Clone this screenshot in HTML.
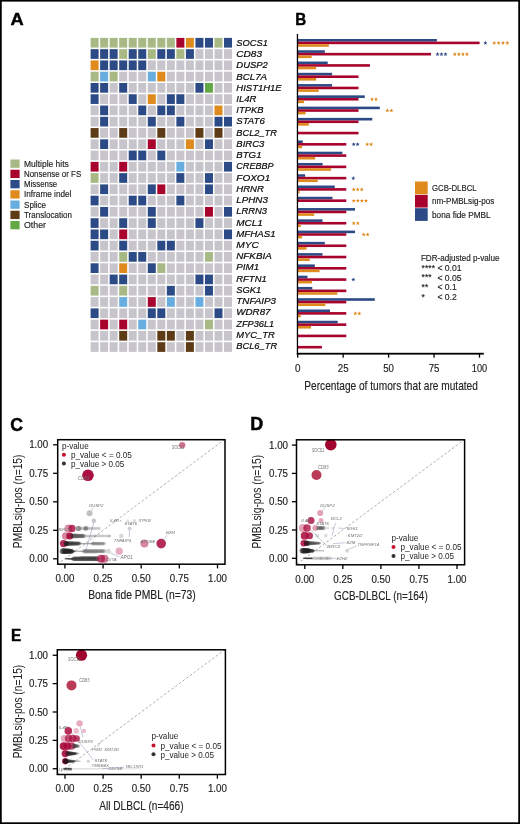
<!DOCTYPE html>
<html><head><meta charset="utf-8"><style>
html,body{margin:0;padding:0;background:#fff;}
body{width:520px;height:824px;overflow:hidden;font-family:"Liberation Sans", sans-serif;}
svg{display:block;will-change:transform;}
</style></head><body>
<svg width="520" height="824" viewBox="0 0 520 824" font-family='"Liberation Sans", sans-serif'>
<rect x="0" y="0" width="520" height="824" fill="#fff"/>
<text x="10.4" y="25.4" font-size="17.4" font-weight="bold" fill="#000" textLength="13.2" lengthAdjust="spacingAndGlyphs" stroke="#000" stroke-width="0.45">A</text>
<text x="295.3" y="24.9" font-size="17.2" font-weight="bold" fill="#000" textLength="11" lengthAdjust="spacingAndGlyphs" stroke="#000" stroke-width="0.45">B</text>
<text x="10.2" y="430.6" font-size="18.6" font-weight="bold" fill="#000" textLength="12.8" lengthAdjust="spacingAndGlyphs" stroke="#000" stroke-width="0.45">C</text>
<text x="250.3" y="430.1" font-size="17.6" font-weight="bold" fill="#000" textLength="13" lengthAdjust="spacingAndGlyphs" stroke="#000" stroke-width="0.45">D</text>
<text x="11" y="640.6" font-size="16.4" font-weight="bold" fill="#000" textLength="10.2" lengthAdjust="spacingAndGlyphs" stroke="#000" stroke-width="0.45">E</text>
<rect x="90.6" y="37.9" width="8" height="9.7" fill="#a8b985"/>
<rect x="100.13" y="37.9" width="8" height="9.7" fill="#a8b985"/>
<rect x="109.66" y="37.9" width="8" height="9.7" fill="#a8b985"/>
<rect x="119.19" y="37.9" width="8" height="9.7" fill="#a8b985"/>
<rect x="128.72" y="37.9" width="8" height="9.7" fill="#a8b985"/>
<rect x="138.25" y="37.9" width="8" height="9.7" fill="#a8b985"/>
<rect x="147.78" y="37.9" width="8" height="9.7" fill="#a8b985"/>
<rect x="157.31" y="37.9" width="8" height="9.7" fill="#a8b985"/>
<rect x="166.84" y="37.9" width="8" height="9.7" fill="#a8b985"/>
<rect x="176.37" y="37.9" width="8" height="9.7" fill="#a7032d"/>
<rect x="185.9" y="37.9" width="8" height="9.7" fill="#df8a1c"/>
<rect x="195.43" y="37.9" width="8" height="9.7" fill="#2c4a86"/>
<rect x="204.96" y="37.9" width="8" height="9.7" fill="#2c4a86"/>
<rect x="214.49" y="37.9" width="8" height="9.7" fill="#a8b985"/>
<rect x="224.02" y="37.9" width="8" height="9.7" fill="#2c4a86"/>
<rect x="90.6" y="49.17" width="8" height="9.7" fill="#2c4a86"/>
<rect x="100.13" y="49.17" width="8" height="9.7" fill="#2c4a86"/>
<rect x="109.66" y="49.17" width="8" height="9.7" fill="#2c4a86"/>
<rect x="119.19" y="49.17" width="8" height="9.7" fill="#a8b985"/>
<rect x="128.72" y="49.17" width="8" height="9.7" fill="#2c4a86"/>
<rect x="138.25" y="49.17" width="8" height="9.7" fill="#2c4a86"/>
<rect x="147.78" y="49.17" width="8" height="9.7" fill="#a8b985"/>
<rect x="157.31" y="49.17" width="8" height="9.7" fill="#2c4a86"/>
<rect x="166.84" y="49.17" width="8" height="9.7" fill="#2c4a86"/>
<rect x="176.37" y="49.17" width="8" height="9.7" fill="#a8b985"/>
<rect x="185.9" y="49.17" width="8" height="9.7" fill="#2c4a86"/>
<rect x="195.43" y="49.17" width="8" height="9.7" fill="#c7c5cb"/>
<rect x="204.96" y="49.17" width="8" height="9.7" fill="#c7c5cb"/>
<rect x="214.49" y="49.17" width="8" height="9.7" fill="#c7c5cb"/>
<rect x="224.02" y="49.17" width="8" height="9.7" fill="#c7c5cb"/>
<rect x="90.6" y="60.44" width="8" height="9.7" fill="#df8a1c"/>
<rect x="100.13" y="60.44" width="8" height="9.7" fill="#2c4a86"/>
<rect x="109.66" y="60.44" width="8" height="9.7" fill="#2c4a86"/>
<rect x="119.19" y="60.44" width="8" height="9.7" fill="#2c4a86"/>
<rect x="128.72" y="60.44" width="8" height="9.7" fill="#2c4a86"/>
<rect x="138.25" y="60.44" width="8" height="9.7" fill="#2c4a86"/>
<rect x="147.78" y="60.44" width="8" height="9.7" fill="#c7c5cb"/>
<rect x="157.31" y="60.44" width="8" height="9.7" fill="#c7c5cb"/>
<rect x="166.84" y="60.44" width="8" height="9.7" fill="#c7c5cb"/>
<rect x="176.37" y="60.44" width="8" height="9.7" fill="#c7c5cb"/>
<rect x="185.9" y="60.44" width="8" height="9.7" fill="#c7c5cb"/>
<rect x="195.43" y="60.44" width="8" height="9.7" fill="#c7c5cb"/>
<rect x="204.96" y="60.44" width="8" height="9.7" fill="#c7c5cb"/>
<rect x="214.49" y="60.44" width="8" height="9.7" fill="#c7c5cb"/>
<rect x="224.02" y="60.44" width="8" height="9.7" fill="#c7c5cb"/>
<rect x="90.6" y="71.71" width="8" height="9.7" fill="#a8b985"/>
<rect x="100.13" y="71.71" width="8" height="9.7" fill="#68ade0"/>
<rect x="109.66" y="71.71" width="8" height="9.7" fill="#a8b985"/>
<rect x="119.19" y="71.71" width="8" height="9.7" fill="#c7c5cb"/>
<rect x="128.72" y="71.71" width="8" height="9.7" fill="#c7c5cb"/>
<rect x="138.25" y="71.71" width="8" height="9.7" fill="#c7c5cb"/>
<rect x="147.78" y="71.71" width="8" height="9.7" fill="#68ade0"/>
<rect x="157.31" y="71.71" width="8" height="9.7" fill="#df8a1c"/>
<rect x="166.84" y="71.71" width="8" height="9.7" fill="#c7c5cb"/>
<rect x="176.37" y="71.71" width="8" height="9.7" fill="#c7c5cb"/>
<rect x="185.9" y="71.71" width="8" height="9.7" fill="#c7c5cb"/>
<rect x="195.43" y="71.71" width="8" height="9.7" fill="#c7c5cb"/>
<rect x="204.96" y="71.71" width="8" height="9.7" fill="#c7c5cb"/>
<rect x="214.49" y="71.71" width="8" height="9.7" fill="#c7c5cb"/>
<rect x="224.02" y="71.71" width="8" height="9.7" fill="#c7c5cb"/>
<rect x="90.6" y="82.98" width="8" height="9.7" fill="#2c4a86"/>
<rect x="100.13" y="82.98" width="8" height="9.7" fill="#2c4a86"/>
<rect x="109.66" y="82.98" width="8" height="9.7" fill="#c7c5cb"/>
<rect x="119.19" y="82.98" width="8" height="9.7" fill="#2c4a86"/>
<rect x="128.72" y="82.98" width="8" height="9.7" fill="#c7c5cb"/>
<rect x="138.25" y="82.98" width="8" height="9.7" fill="#c7c5cb"/>
<rect x="147.78" y="82.98" width="8" height="9.7" fill="#c7c5cb"/>
<rect x="157.31" y="82.98" width="8" height="9.7" fill="#c7c5cb"/>
<rect x="166.84" y="82.98" width="8" height="9.7" fill="#c7c5cb"/>
<rect x="176.37" y="82.98" width="8" height="9.7" fill="#c7c5cb"/>
<rect x="185.9" y="82.98" width="8" height="9.7" fill="#c7c5cb"/>
<rect x="195.43" y="82.98" width="8" height="9.7" fill="#2c4a86"/>
<rect x="204.96" y="82.98" width="8" height="9.7" fill="#64a846"/>
<rect x="214.49" y="82.98" width="8" height="9.7" fill="#c7c5cb"/>
<rect x="224.02" y="82.98" width="8" height="9.7" fill="#c7c5cb"/>
<rect x="90.6" y="94.25" width="8" height="9.7" fill="#2c4a86"/>
<rect x="100.13" y="94.25" width="8" height="9.7" fill="#c7c5cb"/>
<rect x="109.66" y="94.25" width="8" height="9.7" fill="#c7c5cb"/>
<rect x="119.19" y="94.25" width="8" height="9.7" fill="#c7c5cb"/>
<rect x="128.72" y="94.25" width="8" height="9.7" fill="#2c4a86"/>
<rect x="138.25" y="94.25" width="8" height="9.7" fill="#c7c5cb"/>
<rect x="147.78" y="94.25" width="8" height="9.7" fill="#df8a1c"/>
<rect x="157.31" y="94.25" width="8" height="9.7" fill="#c7c5cb"/>
<rect x="166.84" y="94.25" width="8" height="9.7" fill="#2c4a86"/>
<rect x="176.37" y="94.25" width="8" height="9.7" fill="#2c4a86"/>
<rect x="185.9" y="94.25" width="8" height="9.7" fill="#c7c5cb"/>
<rect x="195.43" y="94.25" width="8" height="9.7" fill="#c7c5cb"/>
<rect x="204.96" y="94.25" width="8" height="9.7" fill="#c7c5cb"/>
<rect x="214.49" y="94.25" width="8" height="9.7" fill="#c7c5cb"/>
<rect x="224.02" y="94.25" width="8" height="9.7" fill="#c7c5cb"/>
<rect x="90.6" y="105.52" width="8" height="9.7" fill="#c7c5cb"/>
<rect x="100.13" y="105.52" width="8" height="9.7" fill="#2c4a86"/>
<rect x="109.66" y="105.52" width="8" height="9.7" fill="#c7c5cb"/>
<rect x="119.19" y="105.52" width="8" height="9.7" fill="#c7c5cb"/>
<rect x="128.72" y="105.52" width="8" height="9.7" fill="#c7c5cb"/>
<rect x="138.25" y="105.52" width="8" height="9.7" fill="#2c4a86"/>
<rect x="147.78" y="105.52" width="8" height="9.7" fill="#c7c5cb"/>
<rect x="157.31" y="105.52" width="8" height="9.7" fill="#2c4a86"/>
<rect x="166.84" y="105.52" width="8" height="9.7" fill="#2c4a86"/>
<rect x="176.37" y="105.52" width="8" height="9.7" fill="#c7c5cb"/>
<rect x="185.9" y="105.52" width="8" height="9.7" fill="#c7c5cb"/>
<rect x="195.43" y="105.52" width="8" height="9.7" fill="#c7c5cb"/>
<rect x="204.96" y="105.52" width="8" height="9.7" fill="#c7c5cb"/>
<rect x="214.49" y="105.52" width="8" height="9.7" fill="#df8a1c"/>
<rect x="224.02" y="105.52" width="8" height="9.7" fill="#c7c5cb"/>
<rect x="90.6" y="116.79" width="8" height="9.7" fill="#c7c5cb"/>
<rect x="100.13" y="116.79" width="8" height="9.7" fill="#2c4a86"/>
<rect x="109.66" y="116.79" width="8" height="9.7" fill="#c7c5cb"/>
<rect x="119.19" y="116.79" width="8" height="9.7" fill="#c7c5cb"/>
<rect x="128.72" y="116.79" width="8" height="9.7" fill="#c7c5cb"/>
<rect x="138.25" y="116.79" width="8" height="9.7" fill="#c7c5cb"/>
<rect x="147.78" y="116.79" width="8" height="9.7" fill="#2c4a86"/>
<rect x="157.31" y="116.79" width="8" height="9.7" fill="#c7c5cb"/>
<rect x="166.84" y="116.79" width="8" height="9.7" fill="#c7c5cb"/>
<rect x="176.37" y="116.79" width="8" height="9.7" fill="#2c4a86"/>
<rect x="185.9" y="116.79" width="8" height="9.7" fill="#c7c5cb"/>
<rect x="195.43" y="116.79" width="8" height="9.7" fill="#c7c5cb"/>
<rect x="204.96" y="116.79" width="8" height="9.7" fill="#c7c5cb"/>
<rect x="214.49" y="116.79" width="8" height="9.7" fill="#2c4a86"/>
<rect x="224.02" y="116.79" width="8" height="9.7" fill="#2c4a86"/>
<rect x="90.6" y="128.06" width="8" height="9.7" fill="#5c3b16"/>
<rect x="100.13" y="128.06" width="8" height="9.7" fill="#c7c5cb"/>
<rect x="109.66" y="128.06" width="8" height="9.7" fill="#c7c5cb"/>
<rect x="119.19" y="128.06" width="8" height="9.7" fill="#5c3b16"/>
<rect x="128.72" y="128.06" width="8" height="9.7" fill="#c7c5cb"/>
<rect x="138.25" y="128.06" width="8" height="9.7" fill="#c7c5cb"/>
<rect x="147.78" y="128.06" width="8" height="9.7" fill="#c7c5cb"/>
<rect x="157.31" y="128.06" width="8" height="9.7" fill="#5c3b16"/>
<rect x="166.84" y="128.06" width="8" height="9.7" fill="#c7c5cb"/>
<rect x="176.37" y="128.06" width="8" height="9.7" fill="#c7c5cb"/>
<rect x="185.9" y="128.06" width="8" height="9.7" fill="#c7c5cb"/>
<rect x="195.43" y="128.06" width="8" height="9.7" fill="#5c3b16"/>
<rect x="204.96" y="128.06" width="8" height="9.7" fill="#c7c5cb"/>
<rect x="214.49" y="128.06" width="8" height="9.7" fill="#5c3b16"/>
<rect x="224.02" y="128.06" width="8" height="9.7" fill="#c7c5cb"/>
<rect x="90.6" y="139.33" width="8" height="9.7" fill="#c7c5cb"/>
<rect x="100.13" y="139.33" width="8" height="9.7" fill="#2c4a86"/>
<rect x="109.66" y="139.33" width="8" height="9.7" fill="#c7c5cb"/>
<rect x="119.19" y="139.33" width="8" height="9.7" fill="#c7c5cb"/>
<rect x="128.72" y="139.33" width="8" height="9.7" fill="#c7c5cb"/>
<rect x="138.25" y="139.33" width="8" height="9.7" fill="#c7c5cb"/>
<rect x="147.78" y="139.33" width="8" height="9.7" fill="#a7032d"/>
<rect x="157.31" y="139.33" width="8" height="9.7" fill="#c7c5cb"/>
<rect x="166.84" y="139.33" width="8" height="9.7" fill="#c7c5cb"/>
<rect x="176.37" y="139.33" width="8" height="9.7" fill="#c7c5cb"/>
<rect x="185.9" y="139.33" width="8" height="9.7" fill="#df8a1c"/>
<rect x="195.43" y="139.33" width="8" height="9.7" fill="#c7c5cb"/>
<rect x="204.96" y="139.33" width="8" height="9.7" fill="#2c4a86"/>
<rect x="214.49" y="139.33" width="8" height="9.7" fill="#c7c5cb"/>
<rect x="224.02" y="139.33" width="8" height="9.7" fill="#c7c5cb"/>
<rect x="90.6" y="150.6" width="8" height="9.7" fill="#c7c5cb"/>
<rect x="100.13" y="150.6" width="8" height="9.7" fill="#c7c5cb"/>
<rect x="109.66" y="150.6" width="8" height="9.7" fill="#c7c5cb"/>
<rect x="119.19" y="150.6" width="8" height="9.7" fill="#c7c5cb"/>
<rect x="128.72" y="150.6" width="8" height="9.7" fill="#2c4a86"/>
<rect x="138.25" y="150.6" width="8" height="9.7" fill="#2c4a86"/>
<rect x="147.78" y="150.6" width="8" height="9.7" fill="#c7c5cb"/>
<rect x="157.31" y="150.6" width="8" height="9.7" fill="#2c4a86"/>
<rect x="166.84" y="150.6" width="8" height="9.7" fill="#c7c5cb"/>
<rect x="176.37" y="150.6" width="8" height="9.7" fill="#c7c5cb"/>
<rect x="185.9" y="150.6" width="8" height="9.7" fill="#c7c5cb"/>
<rect x="195.43" y="150.6" width="8" height="9.7" fill="#c7c5cb"/>
<rect x="204.96" y="150.6" width="8" height="9.7" fill="#c7c5cb"/>
<rect x="214.49" y="150.6" width="8" height="9.7" fill="#c7c5cb"/>
<rect x="224.02" y="150.6" width="8" height="9.7" fill="#c7c5cb"/>
<rect x="90.6" y="161.87" width="8" height="9.7" fill="#a7032d"/>
<rect x="100.13" y="161.87" width="8" height="9.7" fill="#c7c5cb"/>
<rect x="109.66" y="161.87" width="8" height="9.7" fill="#c7c5cb"/>
<rect x="119.19" y="161.87" width="8" height="9.7" fill="#a7032d"/>
<rect x="128.72" y="161.87" width="8" height="9.7" fill="#c7c5cb"/>
<rect x="138.25" y="161.87" width="8" height="9.7" fill="#c7c5cb"/>
<rect x="147.78" y="161.87" width="8" height="9.7" fill="#c7c5cb"/>
<rect x="157.31" y="161.87" width="8" height="9.7" fill="#c7c5cb"/>
<rect x="166.84" y="161.87" width="8" height="9.7" fill="#c7c5cb"/>
<rect x="176.37" y="161.87" width="8" height="9.7" fill="#68ade0"/>
<rect x="185.9" y="161.87" width="8" height="9.7" fill="#c7c5cb"/>
<rect x="195.43" y="161.87" width="8" height="9.7" fill="#c7c5cb"/>
<rect x="204.96" y="161.87" width="8" height="9.7" fill="#c7c5cb"/>
<rect x="214.49" y="161.87" width="8" height="9.7" fill="#c7c5cb"/>
<rect x="224.02" y="161.87" width="8" height="9.7" fill="#2c4a86"/>
<rect x="90.6" y="173.14" width="8" height="9.7" fill="#a8b985"/>
<rect x="100.13" y="173.14" width="8" height="9.7" fill="#c7c5cb"/>
<rect x="109.66" y="173.14" width="8" height="9.7" fill="#c7c5cb"/>
<rect x="119.19" y="173.14" width="8" height="9.7" fill="#2c4a86"/>
<rect x="128.72" y="173.14" width="8" height="9.7" fill="#c7c5cb"/>
<rect x="138.25" y="173.14" width="8" height="9.7" fill="#c7c5cb"/>
<rect x="147.78" y="173.14" width="8" height="9.7" fill="#c7c5cb"/>
<rect x="157.31" y="173.14" width="8" height="9.7" fill="#c7c5cb"/>
<rect x="166.84" y="173.14" width="8" height="9.7" fill="#c7c5cb"/>
<rect x="176.37" y="173.14" width="8" height="9.7" fill="#2c4a86"/>
<rect x="185.9" y="173.14" width="8" height="9.7" fill="#c7c5cb"/>
<rect x="195.43" y="173.14" width="8" height="9.7" fill="#c7c5cb"/>
<rect x="204.96" y="173.14" width="8" height="9.7" fill="#2c4a86"/>
<rect x="214.49" y="173.14" width="8" height="9.7" fill="#c7c5cb"/>
<rect x="224.02" y="173.14" width="8" height="9.7" fill="#c7c5cb"/>
<rect x="90.6" y="184.41" width="8" height="9.7" fill="#c7c5cb"/>
<rect x="100.13" y="184.41" width="8" height="9.7" fill="#2c4a86"/>
<rect x="109.66" y="184.41" width="8" height="9.7" fill="#c7c5cb"/>
<rect x="119.19" y="184.41" width="8" height="9.7" fill="#c7c5cb"/>
<rect x="128.72" y="184.41" width="8" height="9.7" fill="#c7c5cb"/>
<rect x="138.25" y="184.41" width="8" height="9.7" fill="#c7c5cb"/>
<rect x="147.78" y="184.41" width="8" height="9.7" fill="#2c4a86"/>
<rect x="157.31" y="184.41" width="8" height="9.7" fill="#a7032d"/>
<rect x="166.84" y="184.41" width="8" height="9.7" fill="#c7c5cb"/>
<rect x="176.37" y="184.41" width="8" height="9.7" fill="#c7c5cb"/>
<rect x="185.9" y="184.41" width="8" height="9.7" fill="#c7c5cb"/>
<rect x="195.43" y="184.41" width="8" height="9.7" fill="#c7c5cb"/>
<rect x="204.96" y="184.41" width="8" height="9.7" fill="#2c4a86"/>
<rect x="214.49" y="184.41" width="8" height="9.7" fill="#c7c5cb"/>
<rect x="224.02" y="184.41" width="8" height="9.7" fill="#c7c5cb"/>
<rect x="90.6" y="195.68" width="8" height="9.7" fill="#2c4a86"/>
<rect x="100.13" y="195.68" width="8" height="9.7" fill="#c7c5cb"/>
<rect x="109.66" y="195.68" width="8" height="9.7" fill="#c7c5cb"/>
<rect x="119.19" y="195.68" width="8" height="9.7" fill="#c7c5cb"/>
<rect x="128.72" y="195.68" width="8" height="9.7" fill="#2c4a86"/>
<rect x="138.25" y="195.68" width="8" height="9.7" fill="#2c4a86"/>
<rect x="147.78" y="195.68" width="8" height="9.7" fill="#c7c5cb"/>
<rect x="157.31" y="195.68" width="8" height="9.7" fill="#c7c5cb"/>
<rect x="166.84" y="195.68" width="8" height="9.7" fill="#c7c5cb"/>
<rect x="176.37" y="195.68" width="8" height="9.7" fill="#2c4a86"/>
<rect x="185.9" y="195.68" width="8" height="9.7" fill="#c7c5cb"/>
<rect x="195.43" y="195.68" width="8" height="9.7" fill="#c7c5cb"/>
<rect x="204.96" y="195.68" width="8" height="9.7" fill="#c7c5cb"/>
<rect x="214.49" y="195.68" width="8" height="9.7" fill="#c7c5cb"/>
<rect x="224.02" y="195.68" width="8" height="9.7" fill="#c7c5cb"/>
<rect x="90.6" y="206.95" width="8" height="9.7" fill="#c7c5cb"/>
<rect x="100.13" y="206.95" width="8" height="9.7" fill="#2c4a86"/>
<rect x="109.66" y="206.95" width="8" height="9.7" fill="#c7c5cb"/>
<rect x="119.19" y="206.95" width="8" height="9.7" fill="#c7c5cb"/>
<rect x="128.72" y="206.95" width="8" height="9.7" fill="#c7c5cb"/>
<rect x="138.25" y="206.95" width="8" height="9.7" fill="#c7c5cb"/>
<rect x="147.78" y="206.95" width="8" height="9.7" fill="#2c4a86"/>
<rect x="157.31" y="206.95" width="8" height="9.7" fill="#c7c5cb"/>
<rect x="166.84" y="206.95" width="8" height="9.7" fill="#c7c5cb"/>
<rect x="176.37" y="206.95" width="8" height="9.7" fill="#c7c5cb"/>
<rect x="185.9" y="206.95" width="8" height="9.7" fill="#c7c5cb"/>
<rect x="195.43" y="206.95" width="8" height="9.7" fill="#c7c5cb"/>
<rect x="204.96" y="206.95" width="8" height="9.7" fill="#a7032d"/>
<rect x="214.49" y="206.95" width="8" height="9.7" fill="#c7c5cb"/>
<rect x="224.02" y="206.95" width="8" height="9.7" fill="#2c4a86"/>
<rect x="90.6" y="218.22" width="8" height="9.7" fill="#2c4a86"/>
<rect x="100.13" y="218.22" width="8" height="9.7" fill="#c7c5cb"/>
<rect x="109.66" y="218.22" width="8" height="9.7" fill="#c7c5cb"/>
<rect x="119.19" y="218.22" width="8" height="9.7" fill="#2c4a86"/>
<rect x="128.72" y="218.22" width="8" height="9.7" fill="#c7c5cb"/>
<rect x="138.25" y="218.22" width="8" height="9.7" fill="#c7c5cb"/>
<rect x="147.78" y="218.22" width="8" height="9.7" fill="#2c4a86"/>
<rect x="157.31" y="218.22" width="8" height="9.7" fill="#c7c5cb"/>
<rect x="166.84" y="218.22" width="8" height="9.7" fill="#c7c5cb"/>
<rect x="176.37" y="218.22" width="8" height="9.7" fill="#c7c5cb"/>
<rect x="185.9" y="218.22" width="8" height="9.7" fill="#c7c5cb"/>
<rect x="195.43" y="218.22" width="8" height="9.7" fill="#2c4a86"/>
<rect x="204.96" y="218.22" width="8" height="9.7" fill="#c7c5cb"/>
<rect x="214.49" y="218.22" width="8" height="9.7" fill="#c7c5cb"/>
<rect x="224.02" y="218.22" width="8" height="9.7" fill="#c7c5cb"/>
<rect x="90.6" y="229.49" width="8" height="9.7" fill="#2c4a86"/>
<rect x="100.13" y="229.49" width="8" height="9.7" fill="#2c4a86"/>
<rect x="109.66" y="229.49" width="8" height="9.7" fill="#c7c5cb"/>
<rect x="119.19" y="229.49" width="8" height="9.7" fill="#a7032d"/>
<rect x="128.72" y="229.49" width="8" height="9.7" fill="#c7c5cb"/>
<rect x="138.25" y="229.49" width="8" height="9.7" fill="#c7c5cb"/>
<rect x="147.78" y="229.49" width="8" height="9.7" fill="#c7c5cb"/>
<rect x="157.31" y="229.49" width="8" height="9.7" fill="#c7c5cb"/>
<rect x="166.84" y="229.49" width="8" height="9.7" fill="#c7c5cb"/>
<rect x="176.37" y="229.49" width="8" height="9.7" fill="#c7c5cb"/>
<rect x="185.9" y="229.49" width="8" height="9.7" fill="#c7c5cb"/>
<rect x="195.43" y="229.49" width="8" height="9.7" fill="#c7c5cb"/>
<rect x="204.96" y="229.49" width="8" height="9.7" fill="#c7c5cb"/>
<rect x="214.49" y="229.49" width="8" height="9.7" fill="#c7c5cb"/>
<rect x="224.02" y="229.49" width="8" height="9.7" fill="#2c4a86"/>
<rect x="90.6" y="240.76" width="8" height="9.7" fill="#2c4a86"/>
<rect x="100.13" y="240.76" width="8" height="9.7" fill="#c7c5cb"/>
<rect x="109.66" y="240.76" width="8" height="9.7" fill="#c7c5cb"/>
<rect x="119.19" y="240.76" width="8" height="9.7" fill="#2c4a86"/>
<rect x="128.72" y="240.76" width="8" height="9.7" fill="#c7c5cb"/>
<rect x="138.25" y="240.76" width="8" height="9.7" fill="#c7c5cb"/>
<rect x="147.78" y="240.76" width="8" height="9.7" fill="#c7c5cb"/>
<rect x="157.31" y="240.76" width="8" height="9.7" fill="#2c4a86"/>
<rect x="166.84" y="240.76" width="8" height="9.7" fill="#2c4a86"/>
<rect x="176.37" y="240.76" width="8" height="9.7" fill="#c7c5cb"/>
<rect x="185.9" y="240.76" width="8" height="9.7" fill="#c7c5cb"/>
<rect x="195.43" y="240.76" width="8" height="9.7" fill="#c7c5cb"/>
<rect x="204.96" y="240.76" width="8" height="9.7" fill="#c7c5cb"/>
<rect x="214.49" y="240.76" width="8" height="9.7" fill="#c7c5cb"/>
<rect x="224.02" y="240.76" width="8" height="9.7" fill="#c7c5cb"/>
<rect x="90.6" y="252.03" width="8" height="9.7" fill="#c7c5cb"/>
<rect x="100.13" y="252.03" width="8" height="9.7" fill="#c7c5cb"/>
<rect x="109.66" y="252.03" width="8" height="9.7" fill="#c7c5cb"/>
<rect x="119.19" y="252.03" width="8" height="9.7" fill="#a8b985"/>
<rect x="128.72" y="252.03" width="8" height="9.7" fill="#2c4a86"/>
<rect x="138.25" y="252.03" width="8" height="9.7" fill="#2c4a86"/>
<rect x="147.78" y="252.03" width="8" height="9.7" fill="#c7c5cb"/>
<rect x="157.31" y="252.03" width="8" height="9.7" fill="#c7c5cb"/>
<rect x="166.84" y="252.03" width="8" height="9.7" fill="#c7c5cb"/>
<rect x="176.37" y="252.03" width="8" height="9.7" fill="#c7c5cb"/>
<rect x="185.9" y="252.03" width="8" height="9.7" fill="#c7c5cb"/>
<rect x="195.43" y="252.03" width="8" height="9.7" fill="#c7c5cb"/>
<rect x="204.96" y="252.03" width="8" height="9.7" fill="#a8b985"/>
<rect x="214.49" y="252.03" width="8" height="9.7" fill="#c7c5cb"/>
<rect x="224.02" y="252.03" width="8" height="9.7" fill="#c7c5cb"/>
<rect x="90.6" y="263.3" width="8" height="9.7" fill="#2c4a86"/>
<rect x="100.13" y="263.3" width="8" height="9.7" fill="#c7c5cb"/>
<rect x="109.66" y="263.3" width="8" height="9.7" fill="#c7c5cb"/>
<rect x="119.19" y="263.3" width="8" height="9.7" fill="#df8a1c"/>
<rect x="128.72" y="263.3" width="8" height="9.7" fill="#c7c5cb"/>
<rect x="138.25" y="263.3" width="8" height="9.7" fill="#c7c5cb"/>
<rect x="147.78" y="263.3" width="8" height="9.7" fill="#2c4a86"/>
<rect x="157.31" y="263.3" width="8" height="9.7" fill="#a8b985"/>
<rect x="166.84" y="263.3" width="8" height="9.7" fill="#c7c5cb"/>
<rect x="176.37" y="263.3" width="8" height="9.7" fill="#c7c5cb"/>
<rect x="185.9" y="263.3" width="8" height="9.7" fill="#c7c5cb"/>
<rect x="195.43" y="263.3" width="8" height="9.7" fill="#c7c5cb"/>
<rect x="204.96" y="263.3" width="8" height="9.7" fill="#c7c5cb"/>
<rect x="214.49" y="263.3" width="8" height="9.7" fill="#c7c5cb"/>
<rect x="224.02" y="263.3" width="8" height="9.7" fill="#c7c5cb"/>
<rect x="90.6" y="274.57" width="8" height="9.7" fill="#c7c5cb"/>
<rect x="100.13" y="274.57" width="8" height="9.7" fill="#c7c5cb"/>
<rect x="109.66" y="274.57" width="8" height="9.7" fill="#2c4a86"/>
<rect x="119.19" y="274.57" width="8" height="9.7" fill="#2c4a86"/>
<rect x="128.72" y="274.57" width="8" height="9.7" fill="#c7c5cb"/>
<rect x="138.25" y="274.57" width="8" height="9.7" fill="#c7c5cb"/>
<rect x="147.78" y="274.57" width="8" height="9.7" fill="#c7c5cb"/>
<rect x="157.31" y="274.57" width="8" height="9.7" fill="#c7c5cb"/>
<rect x="166.84" y="274.57" width="8" height="9.7" fill="#c7c5cb"/>
<rect x="176.37" y="274.57" width="8" height="9.7" fill="#c7c5cb"/>
<rect x="185.9" y="274.57" width="8" height="9.7" fill="#c7c5cb"/>
<rect x="195.43" y="274.57" width="8" height="9.7" fill="#2c4a86"/>
<rect x="204.96" y="274.57" width="8" height="9.7" fill="#2c4a86"/>
<rect x="214.49" y="274.57" width="8" height="9.7" fill="#c7c5cb"/>
<rect x="224.02" y="274.57" width="8" height="9.7" fill="#c7c5cb"/>
<rect x="90.6" y="285.84" width="8" height="9.7" fill="#a8b985"/>
<rect x="100.13" y="285.84" width="8" height="9.7" fill="#c7c5cb"/>
<rect x="109.66" y="285.84" width="8" height="9.7" fill="#c7c5cb"/>
<rect x="119.19" y="285.84" width="8" height="9.7" fill="#a8b985"/>
<rect x="128.72" y="285.84" width="8" height="9.7" fill="#c7c5cb"/>
<rect x="138.25" y="285.84" width="8" height="9.7" fill="#c7c5cb"/>
<rect x="147.78" y="285.84" width="8" height="9.7" fill="#c7c5cb"/>
<rect x="157.31" y="285.84" width="8" height="9.7" fill="#c7c5cb"/>
<rect x="166.84" y="285.84" width="8" height="9.7" fill="#2c4a86"/>
<rect x="176.37" y="285.84" width="8" height="9.7" fill="#c7c5cb"/>
<rect x="185.9" y="285.84" width="8" height="9.7" fill="#c7c5cb"/>
<rect x="195.43" y="285.84" width="8" height="9.7" fill="#c7c5cb"/>
<rect x="204.96" y="285.84" width="8" height="9.7" fill="#2c4a86"/>
<rect x="214.49" y="285.84" width="8" height="9.7" fill="#c7c5cb"/>
<rect x="224.02" y="285.84" width="8" height="9.7" fill="#c7c5cb"/>
<rect x="90.6" y="297.11" width="8" height="9.7" fill="#c7c5cb"/>
<rect x="100.13" y="297.11" width="8" height="9.7" fill="#c7c5cb"/>
<rect x="109.66" y="297.11" width="8" height="9.7" fill="#c7c5cb"/>
<rect x="119.19" y="297.11" width="8" height="9.7" fill="#68ade0"/>
<rect x="128.72" y="297.11" width="8" height="9.7" fill="#c7c5cb"/>
<rect x="138.25" y="297.11" width="8" height="9.7" fill="#c7c5cb"/>
<rect x="147.78" y="297.11" width="8" height="9.7" fill="#a7032d"/>
<rect x="157.31" y="297.11" width="8" height="9.7" fill="#c7c5cb"/>
<rect x="166.84" y="297.11" width="8" height="9.7" fill="#68ade0"/>
<rect x="176.37" y="297.11" width="8" height="9.7" fill="#c7c5cb"/>
<rect x="185.9" y="297.11" width="8" height="9.7" fill="#c7c5cb"/>
<rect x="195.43" y="297.11" width="8" height="9.7" fill="#68ade0"/>
<rect x="204.96" y="297.11" width="8" height="9.7" fill="#c7c5cb"/>
<rect x="214.49" y="297.11" width="8" height="9.7" fill="#c7c5cb"/>
<rect x="224.02" y="297.11" width="8" height="9.7" fill="#c7c5cb"/>
<rect x="90.6" y="308.38" width="8" height="9.7" fill="#2c4a86"/>
<rect x="100.13" y="308.38" width="8" height="9.7" fill="#c7c5cb"/>
<rect x="109.66" y="308.38" width="8" height="9.7" fill="#c7c5cb"/>
<rect x="119.19" y="308.38" width="8" height="9.7" fill="#c7c5cb"/>
<rect x="128.72" y="308.38" width="8" height="9.7" fill="#c7c5cb"/>
<rect x="138.25" y="308.38" width="8" height="9.7" fill="#c7c5cb"/>
<rect x="147.78" y="308.38" width="8" height="9.7" fill="#2c4a86"/>
<rect x="157.31" y="308.38" width="8" height="9.7" fill="#2c4a86"/>
<rect x="166.84" y="308.38" width="8" height="9.7" fill="#c7c5cb"/>
<rect x="176.37" y="308.38" width="8" height="9.7" fill="#c7c5cb"/>
<rect x="185.9" y="308.38" width="8" height="9.7" fill="#c7c5cb"/>
<rect x="195.43" y="308.38" width="8" height="9.7" fill="#c7c5cb"/>
<rect x="204.96" y="308.38" width="8" height="9.7" fill="#c7c5cb"/>
<rect x="214.49" y="308.38" width="8" height="9.7" fill="#2c4a86"/>
<rect x="224.02" y="308.38" width="8" height="9.7" fill="#c7c5cb"/>
<rect x="90.6" y="319.65" width="8" height="9.7" fill="#c7c5cb"/>
<rect x="100.13" y="319.65" width="8" height="9.7" fill="#a7032d"/>
<rect x="109.66" y="319.65" width="8" height="9.7" fill="#c7c5cb"/>
<rect x="119.19" y="319.65" width="8" height="9.7" fill="#a7032d"/>
<rect x="128.72" y="319.65" width="8" height="9.7" fill="#c7c5cb"/>
<rect x="138.25" y="319.65" width="8" height="9.7" fill="#68ade0"/>
<rect x="147.78" y="319.65" width="8" height="9.7" fill="#c7c5cb"/>
<rect x="157.31" y="319.65" width="8" height="9.7" fill="#c7c5cb"/>
<rect x="166.84" y="319.65" width="8" height="9.7" fill="#c7c5cb"/>
<rect x="176.37" y="319.65" width="8" height="9.7" fill="#c7c5cb"/>
<rect x="185.9" y="319.65" width="8" height="9.7" fill="#c7c5cb"/>
<rect x="195.43" y="319.65" width="8" height="9.7" fill="#c7c5cb"/>
<rect x="204.96" y="319.65" width="8" height="9.7" fill="#a8b985"/>
<rect x="214.49" y="319.65" width="8" height="9.7" fill="#c7c5cb"/>
<rect x="224.02" y="319.65" width="8" height="9.7" fill="#c7c5cb"/>
<rect x="90.6" y="330.92" width="8" height="9.7" fill="#c7c5cb"/>
<rect x="100.13" y="330.92" width="8" height="9.7" fill="#c7c5cb"/>
<rect x="109.66" y="330.92" width="8" height="9.7" fill="#c7c5cb"/>
<rect x="119.19" y="330.92" width="8" height="9.7" fill="#5c3b16"/>
<rect x="128.72" y="330.92" width="8" height="9.7" fill="#c7c5cb"/>
<rect x="138.25" y="330.92" width="8" height="9.7" fill="#c7c5cb"/>
<rect x="147.78" y="330.92" width="8" height="9.7" fill="#c7c5cb"/>
<rect x="157.31" y="330.92" width="8" height="9.7" fill="#5c3b16"/>
<rect x="166.84" y="330.92" width="8" height="9.7" fill="#5c3b16"/>
<rect x="176.37" y="330.92" width="8" height="9.7" fill="#c7c5cb"/>
<rect x="185.9" y="330.92" width="8" height="9.7" fill="#5c3b16"/>
<rect x="195.43" y="330.92" width="8" height="9.7" fill="#c7c5cb"/>
<rect x="204.96" y="330.92" width="8" height="9.7" fill="#c7c5cb"/>
<rect x="214.49" y="330.92" width="8" height="9.7" fill="#c7c5cb"/>
<rect x="224.02" y="330.92" width="8" height="9.7" fill="#c7c5cb"/>
<rect x="90.6" y="342.19" width="8" height="9.7" fill="#c7c5cb"/>
<rect x="100.13" y="342.19" width="8" height="9.7" fill="#c7c5cb"/>
<rect x="109.66" y="342.19" width="8" height="9.7" fill="#c7c5cb"/>
<rect x="119.19" y="342.19" width="8" height="9.7" fill="#c7c5cb"/>
<rect x="128.72" y="342.19" width="8" height="9.7" fill="#c7c5cb"/>
<rect x="138.25" y="342.19" width="8" height="9.7" fill="#c7c5cb"/>
<rect x="147.78" y="342.19" width="8" height="9.7" fill="#c7c5cb"/>
<rect x="157.31" y="342.19" width="8" height="9.7" fill="#5c3b16"/>
<rect x="166.84" y="342.19" width="8" height="9.7" fill="#c7c5cb"/>
<rect x="176.37" y="342.19" width="8" height="9.7" fill="#c7c5cb"/>
<rect x="185.9" y="342.19" width="8" height="9.7" fill="#5c3b16"/>
<rect x="195.43" y="342.19" width="8" height="9.7" fill="#c7c5cb"/>
<rect x="204.96" y="342.19" width="8" height="9.7" fill="#c7c5cb"/>
<rect x="214.49" y="342.19" width="8" height="9.7" fill="#c7c5cb"/>
<rect x="224.02" y="342.19" width="8" height="9.7" fill="#c7c5cb"/>
<text x="236.3" y="45.9" font-size="9.8" font-style="italic" textLength="31.6" lengthAdjust="spacingAndGlyphs" stroke="#1a1a1a" stroke-width="0.22">SOCS1</text>
<text x="236.3" y="57.13" font-size="9.8" font-style="italic" textLength="25.8" lengthAdjust="spacingAndGlyphs" stroke="#1a1a1a" stroke-width="0.22">CD83</text>
<text x="236.3" y="68.35" font-size="9.8" font-style="italic" textLength="31.6" lengthAdjust="spacingAndGlyphs" stroke="#1a1a1a" stroke-width="0.22">DUSP2</text>
<text x="236.3" y="79.58" font-size="9.8" font-style="italic" textLength="30.8" lengthAdjust="spacingAndGlyphs" stroke="#1a1a1a" stroke-width="0.22">BCL7A</text>
<text x="236.3" y="90.8" font-size="9.8" font-style="italic" textLength="45.4" lengthAdjust="spacingAndGlyphs" stroke="#1a1a1a" stroke-width="0.22">HIST1H1E</text>
<text x="236.3" y="102.03" font-size="9.8" font-style="italic" textLength="20.1" lengthAdjust="spacingAndGlyphs" stroke="#1a1a1a" stroke-width="0.22">IL4R</text>
<text x="236.3" y="113.26" font-size="9.8" font-style="italic" textLength="27.3" lengthAdjust="spacingAndGlyphs" stroke="#1a1a1a" stroke-width="0.22">ITPKB</text>
<text x="236.3" y="124.48" font-size="9.8" font-style="italic" textLength="28.5" lengthAdjust="spacingAndGlyphs" stroke="#1a1a1a" stroke-width="0.22">STAT6</text>
<text x="236.3" y="135.71" font-size="9.8" font-style="italic" textLength="40.6" lengthAdjust="spacingAndGlyphs" stroke="#1a1a1a" stroke-width="0.22">BCL2_TR</text>
<text x="236.3" y="146.93" font-size="9.8" font-style="italic" textLength="28.1" lengthAdjust="spacingAndGlyphs" stroke="#1a1a1a" stroke-width="0.22">BIRC3</text>
<text x="236.3" y="158.16" font-size="9.8" font-style="italic" textLength="25.2" lengthAdjust="spacingAndGlyphs" stroke="#1a1a1a" stroke-width="0.22">BTG1</text>
<text x="236.3" y="169.39" font-size="9.8" font-style="italic" textLength="37.4" lengthAdjust="spacingAndGlyphs" stroke="#1a1a1a" stroke-width="0.22">CREBBP</text>
<text x="236.3" y="180.61" font-size="9.8" font-style="italic" textLength="33.9" lengthAdjust="spacingAndGlyphs" stroke="#1a1a1a" stroke-width="0.22">FOXO1</text>
<text x="236.3" y="191.84" font-size="9.8" font-style="italic" textLength="27.6" lengthAdjust="spacingAndGlyphs" stroke="#1a1a1a" stroke-width="0.22">HRNR</text>
<text x="236.3" y="203.06" font-size="9.8" font-style="italic" textLength="31.6" lengthAdjust="spacingAndGlyphs" stroke="#1a1a1a" stroke-width="0.22">LPHN3</text>
<text x="236.3" y="214.29" font-size="9.8" font-style="italic" textLength="30.8" lengthAdjust="spacingAndGlyphs" stroke="#1a1a1a" stroke-width="0.22">LRRN3</text>
<text x="236.3" y="225.52" font-size="9.8" font-style="italic" textLength="26.6" lengthAdjust="spacingAndGlyphs" stroke="#1a1a1a" stroke-width="0.22">MCL1</text>
<text x="236.3" y="236.74" font-size="9.8" font-style="italic" textLength="39.3" lengthAdjust="spacingAndGlyphs" stroke="#1a1a1a" stroke-width="0.22">MFHAS1</text>
<text x="236.3" y="247.97" font-size="9.8" font-style="italic" textLength="22.7" lengthAdjust="spacingAndGlyphs" stroke="#1a1a1a" stroke-width="0.22">MYC</text>
<text x="236.3" y="259.19" font-size="9.8" font-style="italic" textLength="35.4" lengthAdjust="spacingAndGlyphs" stroke="#1a1a1a" stroke-width="0.22">NFKBIA</text>
<text x="236.3" y="270.42" font-size="9.8" font-style="italic" textLength="22.9" lengthAdjust="spacingAndGlyphs" stroke="#1a1a1a" stroke-width="0.22">PIM1</text>
<text x="236.3" y="281.65" font-size="9.8" font-style="italic" textLength="30.4" lengthAdjust="spacingAndGlyphs" stroke="#1a1a1a" stroke-width="0.22">RFTN1</text>
<text x="236.3" y="292.87" font-size="9.8" font-style="italic" textLength="25" lengthAdjust="spacingAndGlyphs" stroke="#1a1a1a" stroke-width="0.22">SGK1</text>
<text x="236.3" y="304.1" font-size="9.8" font-style="italic" textLength="39.7" lengthAdjust="spacingAndGlyphs" stroke="#1a1a1a" stroke-width="0.22">TNFAIP3</text>
<text x="236.3" y="315.32" font-size="9.8" font-style="italic" textLength="34.2" lengthAdjust="spacingAndGlyphs" stroke="#1a1a1a" stroke-width="0.22">WDR87</text>
<text x="236.3" y="326.55" font-size="9.8" font-style="italic" textLength="37.9" lengthAdjust="spacingAndGlyphs" stroke="#1a1a1a" stroke-width="0.22">ZFP36L1</text>
<text x="236.3" y="337.78" font-size="9.8" font-style="italic" textLength="38.5" lengthAdjust="spacingAndGlyphs" stroke="#1a1a1a" stroke-width="0.22">MYC_TR</text>
<text x="236.3" y="349" font-size="9.8" font-style="italic" textLength="40.8" lengthAdjust="spacingAndGlyphs" stroke="#1a1a1a" stroke-width="0.22">BCL6_TR</text>
<rect x="10.4" y="159.5" width="9.2" height="8.3" fill="#a8b985"/>
<text x="24" y="166.6" font-size="8.7" fill="#222" textLength="44.8" lengthAdjust="spacingAndGlyphs" stroke="#222" stroke-width="0.15">Multiple hits</text>
<rect x="10.4" y="169.75" width="9.2" height="8.3" fill="#a7032d"/>
<text x="24" y="176.85" font-size="8.7" fill="#222" textLength="57.2" lengthAdjust="spacingAndGlyphs" stroke="#222" stroke-width="0.15">Nonsense or FS</text>
<rect x="10.4" y="180" width="9.2" height="8.3" fill="#2c4a86"/>
<text x="24" y="187.1" font-size="8.7" fill="#222" textLength="33.2" lengthAdjust="spacingAndGlyphs" stroke="#222" stroke-width="0.15">Missense</text>
<rect x="10.4" y="190.25" width="9.2" height="8.3" fill="#df8a1c"/>
<text x="24" y="197.35" font-size="8.7" fill="#222" textLength="47.4" lengthAdjust="spacingAndGlyphs" stroke="#222" stroke-width="0.15">Inframe indel</text>
<rect x="10.4" y="200.5" width="9.2" height="8.3" fill="#68ade0"/>
<text x="24" y="207.6" font-size="8.7" fill="#222" textLength="22" lengthAdjust="spacingAndGlyphs" stroke="#222" stroke-width="0.15">Splice</text>
<rect x="10.4" y="210.75" width="9.2" height="8.3" fill="#5c3b16"/>
<text x="24" y="217.85" font-size="8.7" fill="#222" textLength="47.9" lengthAdjust="spacingAndGlyphs" stroke="#222" stroke-width="0.15">Translocation</text>
<rect x="10.4" y="221" width="9.2" height="8.3" fill="#64a846"/>
<text x="24" y="228.1" font-size="8.7" fill="#222" textLength="22" lengthAdjust="spacingAndGlyphs" stroke="#222" stroke-width="0.15">Other</text>
<rect x="298" y="39" width="138.9" height="2.6" fill="#2c4a86"/>
<rect x="298" y="41.6" width="181.6" height="2.6" fill="#a7032d"/>
<rect x="298" y="44.2" width="30.8" height="2.6" fill="#df8a1c"/>
<rect x="298" y="50.27" width="26.8" height="2.6" fill="#2c4a86"/>
<rect x="298" y="52.87" width="133" height="2.6" fill="#a7032d"/>
<rect x="298" y="55.47" width="13.7" height="2.6" fill="#df8a1c"/>
<rect x="298" y="61.54" width="29.7" height="2.6" fill="#2c4a86"/>
<rect x="298" y="64.14" width="72" height="2.6" fill="#a7032d"/>
<rect x="298" y="66.74" width="18.2" height="2.6" fill="#df8a1c"/>
<rect x="298" y="72.81" width="34.1" height="2.6" fill="#2c4a86"/>
<rect x="298" y="75.41" width="60.5" height="2.6" fill="#a7032d"/>
<rect x="298" y="78.01" width="18.2" height="2.6" fill="#df8a1c"/>
<rect x="298" y="84.08" width="34.1" height="2.6" fill="#2c4a86"/>
<rect x="298" y="86.68" width="60.5" height="2.6" fill="#a7032d"/>
<rect x="298" y="89.28" width="20.7" height="2.6" fill="#df8a1c"/>
<rect x="298" y="95.35" width="66.8" height="2.6" fill="#2c4a86"/>
<rect x="298" y="97.95" width="60.5" height="2.6" fill="#a7032d"/>
<rect x="298" y="100.55" width="6" height="2.6" fill="#df8a1c"/>
<rect x="298" y="106.62" width="81.8" height="2.6" fill="#2c4a86"/>
<rect x="298" y="109.22" width="60.5" height="2.6" fill="#a7032d"/>
<rect x="298" y="111.82" width="7.6" height="2.6" fill="#df8a1c"/>
<rect x="298" y="117.89" width="74.3" height="2.6" fill="#2c4a86"/>
<rect x="298" y="120.49" width="60.5" height="2.6" fill="#a7032d"/>
<rect x="298" y="123.09" width="10.8" height="2.6" fill="#df8a1c"/>
<rect x="298" y="131.76" width="60.5" height="2.6" fill="#a7032d"/>
<rect x="298" y="140.43" width="4.7" height="2.6" fill="#2c4a86"/>
<rect x="298" y="143.03" width="48.3" height="2.6" fill="#a7032d"/>
<rect x="298" y="145.63" width="4.1" height="2.6" fill="#df8a1c"/>
<rect x="298" y="151.7" width="44.4" height="2.6" fill="#2c4a86"/>
<rect x="298" y="154.3" width="48.3" height="2.6" fill="#a7032d"/>
<rect x="298" y="156.9" width="17.2" height="2.6" fill="#df8a1c"/>
<rect x="298" y="162.97" width="24.6" height="2.6" fill="#2c4a86"/>
<rect x="298" y="165.57" width="48.3" height="2.6" fill="#a7032d"/>
<rect x="298" y="168.17" width="33.1" height="2.6" fill="#df8a1c"/>
<rect x="298" y="174.24" width="7.1" height="2.6" fill="#2c4a86"/>
<rect x="298" y="176.84" width="48.3" height="2.6" fill="#a7032d"/>
<rect x="298" y="179.44" width="19.7" height="2.6" fill="#df8a1c"/>
<rect x="298" y="185.51" width="36.8" height="2.6" fill="#2c4a86"/>
<rect x="298" y="188.11" width="48.3" height="2.6" fill="#a7032d"/>
<rect x="298" y="190.71" width="1.6" height="2.6" fill="#df8a1c"/>
<rect x="298" y="196.78" width="34.5" height="2.6" fill="#2c4a86"/>
<rect x="298" y="199.38" width="48.3" height="2.6" fill="#a7032d"/>
<rect x="298" y="208.05" width="57" height="2.6" fill="#2c4a86"/>
<rect x="298" y="210.65" width="48.3" height="2.6" fill="#a7032d"/>
<rect x="298" y="213.25" width="16.2" height="2.6" fill="#df8a1c"/>
<rect x="298" y="219.32" width="24.5" height="2.6" fill="#2c4a86"/>
<rect x="298" y="221.92" width="48.3" height="2.6" fill="#a7032d"/>
<rect x="298" y="224.52" width="2.8" height="2.6" fill="#df8a1c"/>
<rect x="298" y="230.59" width="57" height="2.6" fill="#2c4a86"/>
<rect x="298" y="233.19" width="48.3" height="2.6" fill="#a7032d"/>
<rect x="298" y="235.79" width="4.1" height="2.6" fill="#df8a1c"/>
<rect x="298" y="241.86" width="26.8" height="2.6" fill="#2c4a86"/>
<rect x="298" y="244.46" width="48.3" height="2.6" fill="#a7032d"/>
<rect x="298" y="247.06" width="8.5" height="2.6" fill="#df8a1c"/>
<rect x="298" y="253.13" width="24.5" height="2.6" fill="#2c4a86"/>
<rect x="298" y="255.73" width="48.3" height="2.6" fill="#a7032d"/>
<rect x="298" y="258.33" width="11.8" height="2.6" fill="#df8a1c"/>
<rect x="298" y="264.4" width="16.8" height="2.6" fill="#2c4a86"/>
<rect x="298" y="267" width="48.3" height="2.6" fill="#a7032d"/>
<rect x="298" y="269.6" width="21.6" height="2.6" fill="#df8a1c"/>
<rect x="298" y="275.67" width="9.5" height="2.6" fill="#2c4a86"/>
<rect x="298" y="278.27" width="48.3" height="2.6" fill="#a7032d"/>
<rect x="298" y="280.87" width="13.9" height="2.6" fill="#df8a1c"/>
<rect x="298" y="286.94" width="14.3" height="2.6" fill="#2c4a86"/>
<rect x="298" y="289.54" width="48.3" height="2.6" fill="#a7032d"/>
<rect x="298" y="292.14" width="39.3" height="2.6" fill="#df8a1c"/>
<rect x="298" y="298.21" width="76.8" height="2.6" fill="#2c4a86"/>
<rect x="298" y="300.81" width="48.3" height="2.6" fill="#a7032d"/>
<rect x="298" y="303.41" width="27.4" height="2.6" fill="#df8a1c"/>
<rect x="298" y="309.48" width="32" height="2.6" fill="#2c4a86"/>
<rect x="298" y="312.08" width="48.3" height="2.6" fill="#a7032d"/>
<rect x="298" y="314.68" width="2.8" height="2.6" fill="#df8a1c"/>
<rect x="298" y="320.75" width="39.7" height="2.6" fill="#2c4a86"/>
<rect x="298" y="323.35" width="48.3" height="2.6" fill="#a7032d"/>
<rect x="298" y="325.95" width="13" height="2.6" fill="#df8a1c"/>
<rect x="298" y="334.62" width="48.3" height="2.6" fill="#a7032d"/>
<rect x="298" y="345.89" width="23.9" height="2.6" fill="#a7032d"/>
<rect x="296.8" y="34" width="1.3" height="320.6" fill="#000"/>
<rect x="296.8" y="352.8" width="187" height="1.8" fill="#000"/>
<rect x="297.05" y="353.5" width="1.3" height="4.2" fill="#000"/>
<text x="297.7" y="371.8" font-size="10.2" text-anchor="middle" fill="#222" textLength="5.5" lengthAdjust="spacingAndGlyphs" stroke="#222" stroke-width="0.15">0</text>
<rect x="342.5" y="353.5" width="1.3" height="4.2" fill="#000"/>
<text x="343.15" y="371.8" font-size="10.2" text-anchor="middle" fill="#222" textLength="10.8" lengthAdjust="spacingAndGlyphs" stroke="#222" stroke-width="0.15">25</text>
<rect x="387.95" y="353.5" width="1.3" height="4.2" fill="#000"/>
<text x="388.6" y="371.8" font-size="10.2" text-anchor="middle" fill="#222" textLength="10.8" lengthAdjust="spacingAndGlyphs" stroke="#222" stroke-width="0.15">50</text>
<rect x="433.4" y="353.5" width="1.3" height="4.2" fill="#000"/>
<text x="434.05" y="371.8" font-size="10.2" text-anchor="middle" fill="#222" textLength="10.8" lengthAdjust="spacingAndGlyphs" stroke="#222" stroke-width="0.15">75</text>
<rect x="478.85" y="353.5" width="1.3" height="4.2" fill="#000"/>
<text x="479.5" y="371.8" font-size="10.2" text-anchor="middle" fill="#222" textLength="15.4" lengthAdjust="spacingAndGlyphs" stroke="#222" stroke-width="0.15">100</text>
<text x="304.3" y="390.2" font-size="13.2" fill="#222" textLength="173.6" lengthAdjust="spacingAndGlyphs" stroke="#222" stroke-width="0.15">Percentage of tumors that are mutated</text>
<polygon points="485.4,40.85 485.96,42.19 487.4,42.3 486.3,43.24 486.63,44.65 485.4,43.9 484.17,44.65 484.5,43.24 483.4,42.3 484.84,42.19" fill="#2c4a86"/>
<polygon points="494.2,40.85 494.76,42.19 496.2,42.3 495.1,43.24 495.43,44.65 494.2,43.9 492.97,44.65 493.3,43.24 492.2,42.3 493.64,42.19" fill="#df8a1c"/>
<polygon points="498.6,40.85 499.16,42.19 500.6,42.3 499.5,43.24 499.83,44.65 498.6,43.9 497.37,44.65 497.7,43.24 496.6,42.3 498.04,42.19" fill="#df8a1c"/>
<polygon points="503,40.85 503.56,42.19 505,42.3 503.9,43.24 504.23,44.65 503,43.9 501.77,44.65 502.1,43.24 501,42.3 502.44,42.19" fill="#df8a1c"/>
<polygon points="507.3,40.85 507.86,42.19 509.3,42.3 508.2,43.24 508.53,44.65 507.3,43.9 506.07,44.65 506.4,43.24 505.3,42.3 506.74,42.19" fill="#df8a1c"/>
<polygon points="437.5,52.12 438.06,53.46 439.5,53.57 438.4,54.51 438.73,55.92 437.5,55.16 436.27,55.92 436.6,54.51 435.5,53.57 436.94,53.46" fill="#2c4a86"/>
<polygon points="441.5,52.12 442.06,53.46 443.5,53.57 442.4,54.51 442.73,55.92 441.5,55.16 440.27,55.92 440.6,54.51 439.5,53.57 440.94,53.46" fill="#2c4a86"/>
<polygon points="445.5,52.12 446.06,53.46 447.5,53.57 446.4,54.51 446.73,55.92 445.5,55.16 444.27,55.92 444.6,54.51 443.5,53.57 444.94,53.46" fill="#2c4a86"/>
<polygon points="454.8,52.12 455.36,53.46 456.8,53.57 455.7,54.51 456.03,55.92 454.8,55.16 453.57,55.92 453.9,54.51 452.8,53.57 454.24,53.46" fill="#df8a1c"/>
<polygon points="458.9,52.12 459.46,53.46 460.9,53.57 459.8,54.51 460.13,55.92 458.9,55.16 457.67,55.92 458,54.51 456.9,53.57 458.34,53.46" fill="#df8a1c"/>
<polygon points="463,52.12 463.56,53.46 465,53.57 463.9,54.51 464.23,55.92 463,55.16 461.77,55.92 462.1,54.51 461,53.57 462.44,53.46" fill="#df8a1c"/>
<polygon points="467,52.12 467.56,53.46 469,53.57 467.9,54.51 468.23,55.92 467,55.16 465.77,55.92 466.1,54.51 465,53.57 466.44,53.46" fill="#df8a1c"/>
<polygon points="372,97.2 372.56,98.54 374,98.65 372.9,99.59 373.23,101 372,100.24 370.77,101 371.1,99.59 370,98.65 371.44,98.54" fill="#df8a1c"/>
<polygon points="376,97.2 376.56,98.54 378,98.65 376.9,99.59 377.23,101 376,100.24 374.77,101 375.1,99.59 374,98.65 375.44,98.54" fill="#df8a1c"/>
<polygon points="387.4,108.47 387.96,109.81 389.4,109.92 388.3,110.86 388.63,112.27 387.4,111.52 386.17,112.27 386.5,110.86 385.4,109.92 386.84,109.81" fill="#df8a1c"/>
<polygon points="391.4,108.47 391.96,109.81 393.4,109.92 392.3,110.86 392.63,112.27 391.4,111.52 390.17,112.27 390.5,110.86 389.4,109.92 390.84,109.81" fill="#df8a1c"/>
<polygon points="353.7,142.28 354.26,143.62 355.7,143.73 354.6,144.67 354.93,146.08 353.7,145.32 352.47,146.08 352.8,144.67 351.7,143.73 353.14,143.62" fill="#2c4a86"/>
<polygon points="357.6,142.28 358.16,143.62 359.6,143.73 358.5,144.67 358.83,146.08 357.6,145.32 356.37,146.08 356.7,144.67 355.6,143.73 357.04,143.62" fill="#2c4a86"/>
<polygon points="367.2,142.28 367.76,143.62 369.2,143.73 368.1,144.67 368.43,146.08 367.2,145.32 365.97,146.08 366.3,144.67 365.2,143.73 366.64,143.62" fill="#df8a1c"/>
<polygon points="371.1,142.28 371.66,143.62 373.1,143.73 372,144.67 372.33,146.08 371.1,145.32 369.87,146.08 370.2,144.67 369.1,143.73 370.54,143.62" fill="#df8a1c"/>
<polygon points="353.3,176.09 353.86,177.43 355.3,177.54 354.2,178.48 354.53,179.89 353.3,179.13 352.07,179.89 352.4,178.48 351.3,177.54 352.74,177.43" fill="#2c4a86"/>
<polygon points="353.7,187.36 354.26,188.7 355.7,188.81 354.6,189.75 354.93,191.16 353.7,190.4 352.47,191.16 352.8,189.75 351.7,188.81 353.14,188.7" fill="#df8a1c"/>
<polygon points="357.7,187.36 358.26,188.7 359.7,188.81 358.6,189.75 358.93,191.16 357.7,190.4 356.47,191.16 356.8,189.75 355.7,188.81 357.14,188.7" fill="#df8a1c"/>
<polygon points="361.7,187.36 362.26,188.7 363.7,188.81 362.6,189.75 362.93,191.16 361.7,190.4 360.47,191.16 360.8,189.75 359.7,188.81 361.14,188.7" fill="#df8a1c"/>
<polygon points="353.7,198.63 354.26,199.97 355.7,200.08 354.6,201.02 354.93,202.43 353.7,201.67 352.47,202.43 352.8,201.02 351.7,200.08 353.14,199.97" fill="#df8a1c"/>
<polygon points="357.8,198.63 358.36,199.97 359.8,200.08 358.7,201.02 359.03,202.43 357.8,201.67 356.57,202.43 356.9,201.02 355.8,200.08 357.24,199.97" fill="#df8a1c"/>
<polygon points="361.9,198.63 362.46,199.97 363.9,200.08 362.8,201.02 363.13,202.43 361.9,201.67 360.67,202.43 361,201.02 359.9,200.08 361.34,199.97" fill="#df8a1c"/>
<polygon points="366,198.63 366.56,199.97 368,200.08 366.9,201.02 367.23,202.43 366,201.67 364.77,202.43 365.1,201.02 364,200.08 365.44,199.97" fill="#df8a1c"/>
<polygon points="353.7,221.17 354.26,222.51 355.7,222.62 354.6,223.56 354.93,224.97 353.7,224.21 352.47,224.97 352.8,223.56 351.7,222.62 353.14,222.51" fill="#df8a1c"/>
<polygon points="357.8,221.17 358.36,222.51 359.8,222.62 358.7,223.56 359.03,224.97 357.8,224.21 356.57,224.97 356.9,223.56 355.8,222.62 357.24,222.51" fill="#df8a1c"/>
<polygon points="363.7,232.44 364.26,233.78 365.7,233.89 364.6,234.83 364.93,236.24 363.7,235.48 362.47,236.24 362.8,234.83 361.7,233.89 363.14,233.78" fill="#df8a1c"/>
<polygon points="367.6,232.44 368.16,233.78 369.6,233.89 368.5,234.83 368.83,236.24 367.6,235.48 366.37,236.24 366.7,234.83 365.6,233.89 367.04,233.78" fill="#df8a1c"/>
<polygon points="353.3,277.52 353.86,278.86 355.3,278.97 354.2,279.91 354.53,281.32 353.3,280.56 352.07,281.32 352.4,279.91 351.3,278.97 352.74,278.86" fill="#2c4a86"/>
<polygon points="355.3,311.33 355.86,312.67 357.3,312.78 356.2,313.72 356.53,315.13 355.3,314.38 354.07,315.13 354.4,313.72 353.3,312.78 354.74,312.67" fill="#df8a1c"/>
<polygon points="359.3,311.33 359.86,312.67 361.3,312.78 360.2,313.72 360.53,315.13 359.3,314.38 358.07,315.13 358.4,313.72 357.3,312.78 358.74,312.67" fill="#df8a1c"/>
<rect x="415" y="181.5" width="12.7" height="12.7" fill="#df8a1c"/>
<text x="432" y="191" font-size="8.3" fill="#222" textLength="44.6" lengthAdjust="spacingAndGlyphs" stroke="#222" stroke-width="0.15">GCB-DLBCL</text>
<rect x="415" y="194.85" width="12.7" height="12.7" fill="#a7032d"/>
<text x="432" y="204.35" font-size="8.3" fill="#222" textLength="62.3" lengthAdjust="spacingAndGlyphs" stroke="#222" stroke-width="0.15">nm-PMBLsig-pos</text>
<rect x="415" y="208.2" width="12.7" height="12.7" fill="#2c4a86"/>
<text x="432" y="217.7" font-size="8.3" fill="#222" textLength="58.7" lengthAdjust="spacingAndGlyphs" stroke="#222" stroke-width="0.15">bona fide PMBL</text>
<text x="420.9" y="261.3" font-size="8.6" fill="#222" textLength="78.6" lengthAdjust="spacingAndGlyphs" stroke="#222" stroke-width="0.15">FDR-adjusted p-value</text>
<text x="421.6" y="270.5" font-size="8.6" fill="#222" stroke="#222" stroke-width="0.15">****</text>
<text x="437.4" y="270.9" font-size="8.6" fill="#222" stroke="#222" stroke-width="0.15">&lt; 0.01</text>
<text x="421.6" y="280.18" font-size="8.6" fill="#222" stroke="#222" stroke-width="0.15">***</text>
<text x="437.4" y="280.58" font-size="8.6" fill="#222" stroke="#222" stroke-width="0.15">&lt; 0.05</text>
<text x="421.6" y="289.86" font-size="8.6" fill="#222" stroke="#222" stroke-width="0.15">**</text>
<text x="437.4" y="290.26" font-size="8.6" fill="#222" stroke="#222" stroke-width="0.15">&lt; 0.1</text>
<text x="421.6" y="299.54" font-size="8.6" fill="#222" stroke="#222" stroke-width="0.15">*</text>
<text x="437.4" y="299.94" font-size="8.6" fill="#222" stroke="#222" stroke-width="0.15">&lt; 0.2</text>
<clipPath id="clipC"><rect x="57.7" y="439.7" width="167.3" height="124.5"/></clipPath>
<g clip-path="url(#clipC)">
<line x1="49.64" y1="570.2" x2="232.76" y2="433.4" stroke="#9a9a9a" stroke-width="0.8" stroke-dasharray="2.6,2"/>
<circle cx="89.6" cy="513.2" r="3" fill="#8c8c8c" fill-opacity="0.55"/>
<text x="89" y="506.6" font-size="4.3" font-style="italic" fill="#707070">DUSP2</text>
<line x1="93.5" y1="507.7" x2="91.5" y2="510.2" stroke="#8f94b4" stroke-width="0.5"/>
<circle cx="93.9" cy="520.8" r="2.2" fill="#8c8c8c" fill-opacity="0.5"/>
<line x1="93.9" y1="522.3" x2="85.8" y2="550.7" stroke="#8f94b4" stroke-width="0.5"/>
<text x="110" y="522.2" font-size="4.3" font-style="italic" fill="#707070">IL4R</text>
<circle cx="120.5" cy="520.8" r="0.8" fill="#8c8c8c" fill-opacity="0.6"/>
<circle cx="127.6" cy="520.8" r="1.5" fill="#8c8c8c" fill-opacity="0.25"/>
<circle cx="134.3" cy="520.8" r="1.8" fill="#8c8c8c" fill-opacity="0.3"/>
<text x="138.4" y="522.2" font-size="4.3" font-style="italic" fill="#707070">ITPKB</text>
<text x="124.4" y="525.4" font-size="4.3" font-style="italic" fill="#707070">STAT6</text>
<circle cx="129.6" cy="528.4" r="2" fill="#8c8c8c" fill-opacity="0.4"/>
<line x1="129.6" y1="530.4" x2="129.2" y2="537" stroke="#8f94b4" stroke-width="0.5"/>
<circle cx="68.5" cy="528.4" r="4" fill="#c4466a" fill-opacity="0.6"/>
<circle cx="72" cy="528.4" r="3.6" fill="#a8083a" fill-opacity="0.8"/>
<circle cx="78.3" cy="528.4" r="2.6" fill="#1e1e1e" fill-opacity="0.45"/>
<circle cx="85.8" cy="528.4" r="2.3" fill="#1e1e1e" fill-opacity="0.4"/>
<circle cx="80" cy="528.4" r="2" fill="#1e1e1e" fill-opacity="0.12"/>
<circle cx="81.41" cy="528.4" r="1.97" fill="#1e1e1e" fill-opacity="0.12"/>
<circle cx="82.81" cy="528.4" r="1.94" fill="#1e1e1e" fill-opacity="0.12"/>
<circle cx="84.22" cy="528.4" r="1.91" fill="#1e1e1e" fill-opacity="0.12"/>
<circle cx="85.63" cy="528.4" r="1.89" fill="#1e1e1e" fill-opacity="0.12"/>
<circle cx="87.04" cy="528.4" r="1.86" fill="#1e1e1e" fill-opacity="0.12"/>
<circle cx="88.44" cy="528.4" r="1.83" fill="#1e1e1e" fill-opacity="0.12"/>
<circle cx="89.85" cy="528.4" r="1.8" fill="#1e1e1e" fill-opacity="0.12"/>
<circle cx="91.26" cy="528.4" r="1.77" fill="#1e1e1e" fill-opacity="0.12"/>
<circle cx="92.66" cy="528.4" r="1.74" fill="#1e1e1e" fill-opacity="0.12"/>
<circle cx="94.07" cy="528.4" r="1.71" fill="#1e1e1e" fill-opacity="0.12"/>
<circle cx="95.48" cy="528.4" r="1.69" fill="#1e1e1e" fill-opacity="0.12"/>
<circle cx="96.89" cy="528.4" r="1.66" fill="#1e1e1e" fill-opacity="0.12"/>
<circle cx="98.29" cy="528.4" r="1.63" fill="#1e1e1e" fill-opacity="0.12"/>
<circle cx="99.7" cy="528.4" r="1.6" fill="#1e1e1e" fill-opacity="0.12"/>
<text x="58.6" y="530.6" font-size="4" font-style="italic" fill="#707070">BIRC3</text>
<circle cx="65.7" cy="536" r="3.8" fill="#c4466a" fill-opacity="0.65"/>
<circle cx="69.7" cy="536" r="3.5" fill="#a8083a" fill-opacity="0.9"/>
<circle cx="72" cy="536" r="2.5" fill="#1e1e1e" fill-opacity="0.28"/>
<circle cx="73.15" cy="536" r="2.47" fill="#1e1e1e" fill-opacity="0.28"/>
<circle cx="74.3" cy="536" r="2.44" fill="#1e1e1e" fill-opacity="0.28"/>
<circle cx="75.45" cy="536" r="2.41" fill="#1e1e1e" fill-opacity="0.28"/>
<circle cx="76.6" cy="536" r="2.38" fill="#1e1e1e" fill-opacity="0.28"/>
<circle cx="77.75" cy="536" r="2.35" fill="#1e1e1e" fill-opacity="0.28"/>
<circle cx="78.9" cy="536" r="2.32" fill="#1e1e1e" fill-opacity="0.28"/>
<circle cx="80.05" cy="536" r="2.29" fill="#1e1e1e" fill-opacity="0.28"/>
<circle cx="81.2" cy="536" r="2.26" fill="#1e1e1e" fill-opacity="0.28"/>
<circle cx="82.35" cy="536" r="2.23" fill="#1e1e1e" fill-opacity="0.28"/>
<circle cx="83.5" cy="536" r="2.2" fill="#1e1e1e" fill-opacity="0.28"/>
<circle cx="83.5" cy="536" r="1.6" fill="#1e1e1e" fill-opacity="0.14"/>
<circle cx="84.89" cy="536" r="1.58" fill="#1e1e1e" fill-opacity="0.14"/>
<circle cx="86.29" cy="536" r="1.57" fill="#1e1e1e" fill-opacity="0.14"/>
<circle cx="87.68" cy="536" r="1.55" fill="#1e1e1e" fill-opacity="0.14"/>
<circle cx="89.08" cy="536" r="1.54" fill="#1e1e1e" fill-opacity="0.14"/>
<circle cx="90.47" cy="536" r="1.52" fill="#1e1e1e" fill-opacity="0.14"/>
<circle cx="91.87" cy="536" r="1.51" fill="#1e1e1e" fill-opacity="0.14"/>
<circle cx="93.26" cy="536" r="1.49" fill="#1e1e1e" fill-opacity="0.14"/>
<circle cx="94.66" cy="536" r="1.47" fill="#1e1e1e" fill-opacity="0.14"/>
<circle cx="96.05" cy="536" r="1.46" fill="#1e1e1e" fill-opacity="0.14"/>
<circle cx="97.45" cy="536" r="1.44" fill="#1e1e1e" fill-opacity="0.14"/>
<circle cx="98.84" cy="536" r="1.43" fill="#1e1e1e" fill-opacity="0.14"/>
<circle cx="100.24" cy="536" r="1.41" fill="#1e1e1e" fill-opacity="0.14"/>
<circle cx="101.63" cy="536" r="1.39" fill="#1e1e1e" fill-opacity="0.14"/>
<circle cx="103.03" cy="536" r="1.38" fill="#1e1e1e" fill-opacity="0.14"/>
<circle cx="104.42" cy="536" r="1.36" fill="#1e1e1e" fill-opacity="0.14"/>
<circle cx="105.82" cy="536" r="1.35" fill="#1e1e1e" fill-opacity="0.14"/>
<circle cx="107.21" cy="536" r="1.33" fill="#1e1e1e" fill-opacity="0.14"/>
<circle cx="108.61" cy="536" r="1.32" fill="#1e1e1e" fill-opacity="0.14"/>
<circle cx="110" cy="536" r="1.3" fill="#1e1e1e" fill-opacity="0.14"/>
<circle cx="109" cy="536" r="1.5" fill="#8c8c8c" fill-opacity="0.3"/>
<circle cx="121.3" cy="536" r="2.3" fill="#8c8c8c" fill-opacity="0.35"/>
<text x="113.8" y="542" font-size="4.3" font-style="italic" fill="#707070">TNFAIP3</text>
<circle cx="63.5" cy="543.6" r="3.6" fill="#a8083a" fill-opacity="0.85"/>
<circle cx="66.3" cy="543.6" r="2.7" fill="#1e1e1e" fill-opacity="0.65"/>
<circle cx="66.3" cy="543.6" r="2.5" fill="#1e1e1e" fill-opacity="0.35"/>
<circle cx="67.29" cy="543.6" r="2.46" fill="#1e1e1e" fill-opacity="0.35"/>
<circle cx="68.28" cy="543.6" r="2.42" fill="#1e1e1e" fill-opacity="0.35"/>
<circle cx="69.28" cy="543.6" r="2.38" fill="#1e1e1e" fill-opacity="0.35"/>
<circle cx="70.27" cy="543.6" r="2.35" fill="#1e1e1e" fill-opacity="0.35"/>
<circle cx="71.26" cy="543.6" r="2.31" fill="#1e1e1e" fill-opacity="0.35"/>
<circle cx="72.25" cy="543.6" r="2.27" fill="#1e1e1e" fill-opacity="0.35"/>
<circle cx="73.25" cy="543.6" r="2.23" fill="#1e1e1e" fill-opacity="0.35"/>
<circle cx="74.24" cy="543.6" r="2.19" fill="#1e1e1e" fill-opacity="0.35"/>
<circle cx="75.23" cy="543.6" r="2.15" fill="#1e1e1e" fill-opacity="0.35"/>
<circle cx="76.22" cy="543.6" r="2.12" fill="#1e1e1e" fill-opacity="0.35"/>
<circle cx="77.22" cy="543.6" r="2.08" fill="#1e1e1e" fill-opacity="0.35"/>
<circle cx="78.21" cy="543.6" r="2.04" fill="#1e1e1e" fill-opacity="0.35"/>
<circle cx="79.2" cy="543.6" r="2" fill="#1e1e1e" fill-opacity="0.35"/>
<circle cx="79.2" cy="543.6" r="0.9" fill="#1e1e1e" fill-opacity="0.3"/>
<circle cx="80.43" cy="543.6" r="0.9" fill="#1e1e1e" fill-opacity="0.3"/>
<circle cx="81.65" cy="543.6" r="0.9" fill="#1e1e1e" fill-opacity="0.3"/>
<circle cx="82.88" cy="543.6" r="0.9" fill="#1e1e1e" fill-opacity="0.3"/>
<circle cx="84.11" cy="543.6" r="0.9" fill="#1e1e1e" fill-opacity="0.3"/>
<circle cx="85.34" cy="543.6" r="0.9" fill="#1e1e1e" fill-opacity="0.3"/>
<circle cx="86.56" cy="543.6" r="0.9" fill="#1e1e1e" fill-opacity="0.3"/>
<circle cx="87.79" cy="543.6" r="0.9" fill="#1e1e1e" fill-opacity="0.3"/>
<circle cx="89.02" cy="543.6" r="0.9" fill="#1e1e1e" fill-opacity="0.3"/>
<circle cx="90.25" cy="543.6" r="0.9" fill="#1e1e1e" fill-opacity="0.3"/>
<circle cx="91.47" cy="543.6" r="0.9" fill="#1e1e1e" fill-opacity="0.3"/>
<circle cx="92.7" cy="543.6" r="0.9" fill="#1e1e1e" fill-opacity="0.3"/>
<circle cx="92.7" cy="543.6" r="2" fill="#1e1e1e" fill-opacity="0.2"/>
<circle cx="93.85" cy="543.6" r="1.98" fill="#1e1e1e" fill-opacity="0.2"/>
<circle cx="95" cy="543.6" r="1.96" fill="#1e1e1e" fill-opacity="0.2"/>
<circle cx="96.15" cy="543.6" r="1.94" fill="#1e1e1e" fill-opacity="0.2"/>
<circle cx="97.3" cy="543.6" r="1.92" fill="#1e1e1e" fill-opacity="0.2"/>
<circle cx="98.45" cy="543.6" r="1.9" fill="#1e1e1e" fill-opacity="0.2"/>
<circle cx="99.6" cy="543.6" r="1.88" fill="#1e1e1e" fill-opacity="0.2"/>
<circle cx="100.75" cy="543.6" r="1.86" fill="#1e1e1e" fill-opacity="0.2"/>
<circle cx="101.9" cy="543.6" r="1.84" fill="#1e1e1e" fill-opacity="0.2"/>
<circle cx="103.05" cy="543.6" r="1.82" fill="#1e1e1e" fill-opacity="0.2"/>
<circle cx="104.2" cy="543.6" r="1.8" fill="#1e1e1e" fill-opacity="0.2"/>
<circle cx="144.4" cy="543.6" r="4" fill="#c4466a" fill-opacity="0.65"/>
<text x="140.6" y="542.6" font-size="4.3" font-style="italic" fill="#707070">APOBE</text>
<circle cx="161.2" cy="543.6" r="4.8" fill="#a8083a" fill-opacity="0.85"/>
<text x="166" y="534" font-size="4.3" font-style="italic" fill="#707070">B2M</text>
<line x1="163" y1="540.1" x2="167" y2="535.1" stroke="#8f94b4" stroke-width="0.5"/>
<circle cx="62.5" cy="551.2" r="2.9" fill="#1e1e1e" fill-opacity="0.42"/>
<circle cx="63.27" cy="551.2" r="2.86" fill="#1e1e1e" fill-opacity="0.42"/>
<circle cx="64.05" cy="551.2" r="2.83" fill="#1e1e1e" fill-opacity="0.42"/>
<circle cx="64.82" cy="551.2" r="2.79" fill="#1e1e1e" fill-opacity="0.42"/>
<circle cx="65.59" cy="551.2" r="2.75" fill="#1e1e1e" fill-opacity="0.42"/>
<circle cx="66.36" cy="551.2" r="2.72" fill="#1e1e1e" fill-opacity="0.42"/>
<circle cx="67.14" cy="551.2" r="2.68" fill="#1e1e1e" fill-opacity="0.42"/>
<circle cx="67.91" cy="551.2" r="2.65" fill="#1e1e1e" fill-opacity="0.42"/>
<circle cx="68.68" cy="551.2" r="2.61" fill="#1e1e1e" fill-opacity="0.42"/>
<circle cx="69.45" cy="551.2" r="2.57" fill="#1e1e1e" fill-opacity="0.42"/>
<circle cx="70.23" cy="551.2" r="2.54" fill="#1e1e1e" fill-opacity="0.42"/>
<circle cx="71" cy="551.2" r="2.5" fill="#1e1e1e" fill-opacity="0.42"/>
<circle cx="71" cy="551.2" r="2.2" fill="#1e1e1e" fill-opacity="0.35"/>
<circle cx="71.85" cy="551.2" r="1.9" fill="#1e1e1e" fill-opacity="0.35"/>
<circle cx="72.7" cy="551.2" r="1.6" fill="#1e1e1e" fill-opacity="0.35"/>
<circle cx="73.55" cy="551.2" r="1.3" fill="#1e1e1e" fill-opacity="0.35"/>
<circle cx="74.4" cy="551.2" r="1" fill="#1e1e1e" fill-opacity="0.35"/>
<circle cx="74.4" cy="551.2" r="0.8" fill="#1e1e1e" fill-opacity="0.35"/>
<circle cx="75.6" cy="551.2" r="0.8" fill="#1e1e1e" fill-opacity="0.35"/>
<circle cx="76.8" cy="551.2" r="0.8" fill="#1e1e1e" fill-opacity="0.35"/>
<circle cx="78" cy="551.2" r="0.8" fill="#1e1e1e" fill-opacity="0.35"/>
<circle cx="79.2" cy="551.2" r="0.8" fill="#1e1e1e" fill-opacity="0.35"/>
<circle cx="80.4" cy="551.2" r="0.8" fill="#1e1e1e" fill-opacity="0.35"/>
<circle cx="81.6" cy="551.2" r="0.8" fill="#1e1e1e" fill-opacity="0.35"/>
<circle cx="82.8" cy="551.2" r="0.8" fill="#1e1e1e" fill-opacity="0.35"/>
<circle cx="84" cy="551.2" r="0.8" fill="#1e1e1e" fill-opacity="0.35"/>
<circle cx="84" cy="551.2" r="2.3" fill="#1e1e1e" fill-opacity="0.2"/>
<circle cx="85.19" cy="551.2" r="2.29" fill="#1e1e1e" fill-opacity="0.2"/>
<circle cx="86.38" cy="551.2" r="2.28" fill="#1e1e1e" fill-opacity="0.2"/>
<circle cx="87.56" cy="551.2" r="2.26" fill="#1e1e1e" fill-opacity="0.2"/>
<circle cx="88.75" cy="551.2" r="2.25" fill="#1e1e1e" fill-opacity="0.2"/>
<circle cx="89.94" cy="551.2" r="2.24" fill="#1e1e1e" fill-opacity="0.2"/>
<circle cx="91.13" cy="551.2" r="2.23" fill="#1e1e1e" fill-opacity="0.2"/>
<circle cx="92.32" cy="551.2" r="2.22" fill="#1e1e1e" fill-opacity="0.2"/>
<circle cx="93.51" cy="551.2" r="2.21" fill="#1e1e1e" fill-opacity="0.2"/>
<circle cx="94.69" cy="551.2" r="2.19" fill="#1e1e1e" fill-opacity="0.2"/>
<circle cx="95.88" cy="551.2" r="2.18" fill="#1e1e1e" fill-opacity="0.2"/>
<circle cx="97.07" cy="551.2" r="2.17" fill="#1e1e1e" fill-opacity="0.2"/>
<circle cx="98.26" cy="551.2" r="2.16" fill="#1e1e1e" fill-opacity="0.2"/>
<circle cx="99.45" cy="551.2" r="2.15" fill="#1e1e1e" fill-opacity="0.2"/>
<circle cx="100.64" cy="551.2" r="2.14" fill="#1e1e1e" fill-opacity="0.2"/>
<circle cx="101.82" cy="551.2" r="2.12" fill="#1e1e1e" fill-opacity="0.2"/>
<circle cx="103.01" cy="551.2" r="2.11" fill="#1e1e1e" fill-opacity="0.2"/>
<circle cx="104.2" cy="551.2" r="2.1" fill="#1e1e1e" fill-opacity="0.2"/>
<circle cx="108.3" cy="551.2" r="2.5" fill="#8c8c8c" fill-opacity="0.35"/>
<circle cx="119.2" cy="551.2" r="3.6" fill="#c4466a" fill-opacity="0.45"/>
<line x1="110" y1="552.7" x2="119.5" y2="557" stroke="#8f94b4" stroke-width="0.5"/>
<text x="120.5" y="558.8" font-size="4.6" font-style="italic" fill="#707070">APO1</text>
<circle cx="65.8" cy="558.8" r="0.8" fill="#1e1e1e" fill-opacity="0.6"/>
<circle cx="66.57" cy="558.8" r="0.81" fill="#1e1e1e" fill-opacity="0.6"/>
<circle cx="67.34" cy="558.8" r="0.82" fill="#1e1e1e" fill-opacity="0.6"/>
<circle cx="68.11" cy="558.8" r="0.83" fill="#1e1e1e" fill-opacity="0.6"/>
<circle cx="68.88" cy="558.8" r="0.84" fill="#1e1e1e" fill-opacity="0.6"/>
<circle cx="69.65" cy="558.8" r="0.85" fill="#1e1e1e" fill-opacity="0.6"/>
<circle cx="70.42" cy="558.8" r="0.86" fill="#1e1e1e" fill-opacity="0.6"/>
<circle cx="71.19" cy="558.8" r="0.87" fill="#1e1e1e" fill-opacity="0.6"/>
<circle cx="71.96" cy="558.8" r="0.88" fill="#1e1e1e" fill-opacity="0.6"/>
<circle cx="72.73" cy="558.8" r="0.89" fill="#1e1e1e" fill-opacity="0.6"/>
<circle cx="73.5" cy="558.8" r="0.9" fill="#1e1e1e" fill-opacity="0.6"/>
<circle cx="73.5" cy="558.8" r="2.4" fill="#1e1e1e" fill-opacity="0.38"/>
<circle cx="74.7" cy="558.8" r="2.4" fill="#1e1e1e" fill-opacity="0.38"/>
<circle cx="75.9" cy="558.8" r="2.41" fill="#1e1e1e" fill-opacity="0.38"/>
<circle cx="77.1" cy="558.8" r="2.42" fill="#1e1e1e" fill-opacity="0.38"/>
<circle cx="78.3" cy="558.8" r="2.42" fill="#1e1e1e" fill-opacity="0.38"/>
<circle cx="79.5" cy="558.8" r="2.42" fill="#1e1e1e" fill-opacity="0.38"/>
<circle cx="80.7" cy="558.8" r="2.43" fill="#1e1e1e" fill-opacity="0.38"/>
<circle cx="81.9" cy="558.8" r="2.44" fill="#1e1e1e" fill-opacity="0.38"/>
<circle cx="83.1" cy="558.8" r="2.44" fill="#1e1e1e" fill-opacity="0.38"/>
<circle cx="84.3" cy="558.8" r="2.44" fill="#1e1e1e" fill-opacity="0.38"/>
<circle cx="85.5" cy="558.8" r="2.45" fill="#1e1e1e" fill-opacity="0.38"/>
<circle cx="86.7" cy="558.8" r="2.46" fill="#1e1e1e" fill-opacity="0.38"/>
<circle cx="87.9" cy="558.8" r="2.46" fill="#1e1e1e" fill-opacity="0.38"/>
<circle cx="89.1" cy="558.8" r="2.46" fill="#1e1e1e" fill-opacity="0.38"/>
<circle cx="90.3" cy="558.8" r="2.47" fill="#1e1e1e" fill-opacity="0.38"/>
<circle cx="91.5" cy="558.8" r="2.48" fill="#1e1e1e" fill-opacity="0.38"/>
<circle cx="92.7" cy="558.8" r="2.48" fill="#1e1e1e" fill-opacity="0.38"/>
<circle cx="93.9" cy="558.8" r="2.48" fill="#1e1e1e" fill-opacity="0.38"/>
<circle cx="95.1" cy="558.8" r="2.49" fill="#1e1e1e" fill-opacity="0.38"/>
<circle cx="96.3" cy="558.8" r="2.5" fill="#1e1e1e" fill-opacity="0.38"/>
<circle cx="97.5" cy="558.8" r="2.5" fill="#1e1e1e" fill-opacity="0.38"/>
<circle cx="101" cy="558.8" r="4" fill="#a8083a" fill-opacity="0.7"/>
<circle cx="104.5" cy="558.8" r="4" fill="#a8083a" fill-opacity="0.55"/>
<text x="106" y="560.6" font-size="4.3" font-style="italic" fill="#707070">CIITA</text>
<circle cx="88" cy="475.3" r="5.8" fill="#a8083a" fill-opacity="0.97"/>
<text x="78.1" y="480" font-size="4.6" font-style="italic" fill="#707070" textLength="11" lengthAdjust="spacingAndGlyphs">CD83</text>
<circle cx="182.2" cy="445.1" r="3.2" fill="#c4466a" fill-opacity="0.75"/>
<text x="172" y="448.6" font-size="4.6" font-style="italic" fill="#707070" textLength="12.3" lengthAdjust="spacingAndGlyphs">SOCS1</text>
</g>
<rect x="57.7" y="439.7" width="167.3" height="124.5" fill="none" stroke="#000" stroke-width="1.5"/>
<line x1="53.1" y1="558.8" x2="57.7" y2="558.8" stroke="#000" stroke-width="1.3"/>
<text x="48.2" y="562.4" font-size="10" text-anchor="end" fill="#222" textLength="19" lengthAdjust="spacingAndGlyphs" stroke="#222" stroke-width="0.15">0.00</text>
<line x1="64.9" y1="564.2" x2="64.9" y2="568.4" stroke="#000" stroke-width="1.3"/>
<text x="64.9" y="582.1" font-size="10" text-anchor="middle" fill="#222" textLength="19" lengthAdjust="spacingAndGlyphs" stroke="#222" stroke-width="0.15">0.00</text>
<line x1="53.1" y1="530.3" x2="57.7" y2="530.3" stroke="#000" stroke-width="1.3"/>
<text x="48.2" y="533.9" font-size="10" text-anchor="end" fill="#222" textLength="19" lengthAdjust="spacingAndGlyphs" stroke="#222" stroke-width="0.15">0.25</text>
<line x1="103.05" y1="564.2" x2="103.05" y2="568.4" stroke="#000" stroke-width="1.3"/>
<text x="103.05" y="582.1" font-size="10" text-anchor="middle" fill="#222" textLength="19" lengthAdjust="spacingAndGlyphs" stroke="#222" stroke-width="0.15">0.25</text>
<line x1="53.1" y1="501.8" x2="57.7" y2="501.8" stroke="#000" stroke-width="1.3"/>
<text x="48.2" y="505.4" font-size="10" text-anchor="end" fill="#222" textLength="19" lengthAdjust="spacingAndGlyphs" stroke="#222" stroke-width="0.15">0.50</text>
<line x1="141.2" y1="564.2" x2="141.2" y2="568.4" stroke="#000" stroke-width="1.3"/>
<text x="141.2" y="582.1" font-size="10" text-anchor="middle" fill="#222" textLength="19" lengthAdjust="spacingAndGlyphs" stroke="#222" stroke-width="0.15">0.50</text>
<line x1="53.1" y1="473.3" x2="57.7" y2="473.3" stroke="#000" stroke-width="1.3"/>
<text x="48.2" y="476.9" font-size="10" text-anchor="end" fill="#222" textLength="19" lengthAdjust="spacingAndGlyphs" stroke="#222" stroke-width="0.15">0.75</text>
<line x1="179.35" y1="564.2" x2="179.35" y2="568.4" stroke="#000" stroke-width="1.3"/>
<text x="179.35" y="582.1" font-size="10" text-anchor="middle" fill="#222" textLength="19" lengthAdjust="spacingAndGlyphs" stroke="#222" stroke-width="0.15">0.75</text>
<line x1="53.1" y1="444.8" x2="57.7" y2="444.8" stroke="#000" stroke-width="1.3"/>
<text x="48.2" y="448.4" font-size="10" text-anchor="end" fill="#222" textLength="19" lengthAdjust="spacingAndGlyphs" stroke="#222" stroke-width="0.15">1.00</text>
<line x1="217.5" y1="564.2" x2="217.5" y2="568.4" stroke="#000" stroke-width="1.3"/>
<text x="217.5" y="582.1" font-size="10" text-anchor="middle" fill="#222" textLength="19" lengthAdjust="spacingAndGlyphs" stroke="#222" stroke-width="0.15">1.00</text>
<text x="88.2" y="599.4" font-size="13.2" fill="#222" textLength="107.5" lengthAdjust="spacingAndGlyphs" stroke="#222" stroke-width="0.15">Bona fide PMBL (n=73)</text>
<text x="0" y="0" font-size="13.2" fill="#222" text-anchor="middle" textLength="93.6" lengthAdjust="spacingAndGlyphs" transform="translate(21.5,501.35) rotate(-90)">PMBLsig-pos (n=15)</text>
<text x="61.9" y="448.5" font-size="8.6" fill="#262626" textLength="26.8" lengthAdjust="spacingAndGlyphs">p-value</text>
<circle cx="63.9" cy="454.7" r="2" fill="#c8102e"/>
<text x="70.9" y="457.9" font-size="8.6" fill="#262626" textLength="61" lengthAdjust="spacingAndGlyphs">p_value &lt; = 0.05</text>
<circle cx="63.9" cy="463.6" r="2" fill="#333"/>
<text x="70.9" y="466.8" font-size="8.6" fill="#262626" textLength="53.5" lengthAdjust="spacingAndGlyphs">p_value &gt; 0.05</text>
<clipPath id="clipD"><rect x="296.5" y="439.8" width="168.1" height="125"/></clipPath>
<g clip-path="url(#clipD)">
<line x1="289.58" y1="569.62" x2="472.22" y2="433.78" stroke="#9a9a9a" stroke-width="0.8" stroke-dasharray="2.6,2"/>
<circle cx="320.2" cy="513.02" r="3" fill="#c4466a" fill-opacity="0.5"/>
<text x="320.2" y="506.52" font-size="4.3" font-style="italic" fill="#707070">DUSP2</text>
<line x1="325" y1="507.52" x2="322" y2="510.52" stroke="#8f94b4" stroke-width="0.5"/>
<circle cx="311" cy="520.57" r="3.5" fill="#a8083a" fill-opacity="0.8"/>
<circle cx="321" cy="520.57" r="2.5" fill="#c4466a" fill-opacity="0.45"/>
<text x="301.3" y="522.07" font-size="4.3" font-style="italic" fill="#707070">IL4R</text>
<text x="316.2" y="524.87" font-size="4.3" font-style="italic" fill="#707070">STAT6</text>
<text x="331.1" y="519.97" font-size="4.3" font-style="italic" fill="#707070">BCL2</text>
<line x1="335.5" y1="522.87" x2="332.1" y2="535.56" stroke="#8f94b4" stroke-width="0.5"/>
<circle cx="302.8" cy="528.11" r="4" fill="#c4466a" fill-opacity="0.5"/>
<circle cx="307.1" cy="528.11" r="3.8" fill="#a8083a" fill-opacity="0.75"/>
<circle cx="315.3" cy="528.11" r="3" fill="#c4466a" fill-opacity="0.5"/>
<circle cx="318" cy="528.11" r="2.2" fill="#1e1e1e" fill-opacity="0.25"/>
<circle cx="319" cy="528.11" r="2.17" fill="#1e1e1e" fill-opacity="0.25"/>
<circle cx="320" cy="528.11" r="2.13" fill="#1e1e1e" fill-opacity="0.25"/>
<circle cx="321" cy="528.11" r="2.1" fill="#1e1e1e" fill-opacity="0.25"/>
<circle cx="322" cy="528.11" r="2.07" fill="#1e1e1e" fill-opacity="0.25"/>
<circle cx="323" cy="528.11" r="2.03" fill="#1e1e1e" fill-opacity="0.25"/>
<circle cx="324" cy="528.11" r="2" fill="#1e1e1e" fill-opacity="0.25"/>
<circle cx="327.8" cy="528.11" r="1.5" fill="#8c8c8c" fill-opacity="0.3"/>
<circle cx="332.6" cy="528.11" r="1.3" fill="#8c8c8c" fill-opacity="0.3"/>
<line x1="338.3" y1="528.11" x2="345" y2="528.41" stroke="#8f94b4" stroke-width="0.5"/>
<text x="346.5" y="529.61" font-size="4.3" font-style="italic" fill="#707070">SGK1</text>
<circle cx="304.7" cy="535.66" r="4" fill="#a8083a" fill-opacity="0.85"/>
<circle cx="309.5" cy="535.66" r="3.5" fill="#a8083a" fill-opacity="0.8"/>
<circle cx="317.2" cy="535.66" r="2" fill="#8c8c8c" fill-opacity="0.3"/>
<circle cx="325.8" cy="535.66" r="1.8" fill="#8c8c8c" fill-opacity="0.3"/>
<text x="347.8" y="537.16" font-size="4.3" font-style="italic" fill="#707070">KMT2D</text>
<circle cx="346.5" cy="535.66" r="0.5" fill="#8c8c8c" fill-opacity="0.6"/>
<circle cx="303.7" cy="543.21" r="3.2" fill="#a8083a" fill-opacity="0.85"/>
<circle cx="306.6" cy="543.21" r="2.8" fill="#3a0010" fill-opacity="0.7"/>
<circle cx="306.6" cy="543.21" r="2.5" fill="#1e1e1e" fill-opacity="0.3"/>
<circle cx="307.6" cy="543.21" r="2.42" fill="#1e1e1e" fill-opacity="0.3"/>
<circle cx="308.6" cy="543.21" r="2.33" fill="#1e1e1e" fill-opacity="0.3"/>
<circle cx="309.6" cy="543.21" r="2.25" fill="#1e1e1e" fill-opacity="0.3"/>
<circle cx="310.6" cy="543.21" r="2.16" fill="#1e1e1e" fill-opacity="0.3"/>
<circle cx="311.6" cy="543.21" r="2.08" fill="#1e1e1e" fill-opacity="0.3"/>
<circle cx="312.6" cy="543.21" r="1.99" fill="#1e1e1e" fill-opacity="0.3"/>
<circle cx="313.6" cy="543.21" r="1.91" fill="#1e1e1e" fill-opacity="0.3"/>
<circle cx="314.6" cy="543.21" r="1.82" fill="#1e1e1e" fill-opacity="0.3"/>
<circle cx="315.6" cy="543.21" r="1.74" fill="#1e1e1e" fill-opacity="0.3"/>
<circle cx="316.6" cy="543.21" r="1.65" fill="#1e1e1e" fill-opacity="0.3"/>
<circle cx="317.6" cy="543.21" r="1.57" fill="#1e1e1e" fill-opacity="0.3"/>
<circle cx="318.6" cy="543.21" r="1.48" fill="#1e1e1e" fill-opacity="0.3"/>
<circle cx="319.6" cy="543.21" r="1.4" fill="#1e1e1e" fill-opacity="0.3"/>
<line x1="310.5" y1="529.51" x2="326.8" y2="545.81" stroke="#8f94b4" stroke-width="0.5"/>
<text x="327.3" y="547.61" font-size="4.3" font-style="italic" fill="#707070">BIRC3</text>
<line x1="333" y1="543.71" x2="345.5" y2="542.71" stroke="#8f94b4" stroke-width="0.5"/>
<text x="346.5" y="544.01" font-size="4.3" font-style="italic" fill="#707070">B2M</text>
<circle cx="302.3" cy="550.75" r="2.8" fill="#1e1e1e" fill-opacity="0.5"/>
<circle cx="303.11" cy="550.75" r="2.76" fill="#1e1e1e" fill-opacity="0.5"/>
<circle cx="303.93" cy="550.75" r="2.71" fill="#1e1e1e" fill-opacity="0.5"/>
<circle cx="304.74" cy="550.75" r="2.67" fill="#1e1e1e" fill-opacity="0.5"/>
<circle cx="305.56" cy="550.75" r="2.63" fill="#1e1e1e" fill-opacity="0.5"/>
<circle cx="306.37" cy="550.75" r="2.59" fill="#1e1e1e" fill-opacity="0.5"/>
<circle cx="307.19" cy="550.75" r="2.54" fill="#1e1e1e" fill-opacity="0.5"/>
<circle cx="308" cy="550.75" r="2.5" fill="#1e1e1e" fill-opacity="0.5"/>
<circle cx="308" cy="550.75" r="2.4" fill="#1e1e1e" fill-opacity="0.4"/>
<circle cx="308.76" cy="550.75" r="2.29" fill="#1e1e1e" fill-opacity="0.4"/>
<circle cx="309.51" cy="550.75" r="2.17" fill="#1e1e1e" fill-opacity="0.4"/>
<circle cx="310.27" cy="550.75" r="2.06" fill="#1e1e1e" fill-opacity="0.4"/>
<circle cx="311.03" cy="550.75" r="1.94" fill="#1e1e1e" fill-opacity="0.4"/>
<circle cx="311.79" cy="550.75" r="1.83" fill="#1e1e1e" fill-opacity="0.4"/>
<circle cx="312.54" cy="550.75" r="1.71" fill="#1e1e1e" fill-opacity="0.4"/>
<circle cx="313.3" cy="550.75" r="1.6" fill="#1e1e1e" fill-opacity="0.4"/>
<circle cx="313.3" cy="550.75" r="0.8" fill="#1e1e1e" fill-opacity="0.3"/>
<circle cx="314.56" cy="550.75" r="0.8" fill="#1e1e1e" fill-opacity="0.3"/>
<circle cx="315.82" cy="550.75" r="0.8" fill="#1e1e1e" fill-opacity="0.3"/>
<circle cx="317.09" cy="550.75" r="0.8" fill="#1e1e1e" fill-opacity="0.3"/>
<circle cx="318.35" cy="550.75" r="0.8" fill="#1e1e1e" fill-opacity="0.3"/>
<circle cx="319.61" cy="550.75" r="0.8" fill="#1e1e1e" fill-opacity="0.3"/>
<circle cx="320.88" cy="550.75" r="0.8" fill="#1e1e1e" fill-opacity="0.3"/>
<circle cx="322.14" cy="550.75" r="0.8" fill="#1e1e1e" fill-opacity="0.3"/>
<circle cx="323.4" cy="550.75" r="0.8" fill="#1e1e1e" fill-opacity="0.3"/>
<circle cx="347.1" cy="550.75" r="2" fill="#8c8c8c" fill-opacity="0.35"/>
<line x1="348.5" y1="549.25" x2="357" y2="545.75" stroke="#8f94b4" stroke-width="0.5"/>
<text x="357.5" y="546.35" font-size="4.3" font-style="italic" fill="#707070">TNFRSF14</text>
<circle cx="303.7" cy="558.3" r="0.8" fill="#1e1e1e" fill-opacity="0.7"/>
<circle cx="304.52" cy="558.3" r="0.81" fill="#1e1e1e" fill-opacity="0.7"/>
<circle cx="305.34" cy="558.3" r="0.82" fill="#1e1e1e" fill-opacity="0.7"/>
<circle cx="306.16" cy="558.3" r="0.83" fill="#1e1e1e" fill-opacity="0.7"/>
<circle cx="306.98" cy="558.3" r="0.84" fill="#1e1e1e" fill-opacity="0.7"/>
<circle cx="307.8" cy="558.3" r="0.85" fill="#1e1e1e" fill-opacity="0.7"/>
<circle cx="308.62" cy="558.3" r="0.86" fill="#1e1e1e" fill-opacity="0.7"/>
<circle cx="309.44" cy="558.3" r="0.87" fill="#1e1e1e" fill-opacity="0.7"/>
<circle cx="310.26" cy="558.3" r="0.88" fill="#1e1e1e" fill-opacity="0.7"/>
<circle cx="311.08" cy="558.3" r="0.89" fill="#1e1e1e" fill-opacity="0.7"/>
<circle cx="311.9" cy="558.3" r="0.9" fill="#1e1e1e" fill-opacity="0.7"/>
<circle cx="313.3" cy="558.3" r="1.8" fill="#1e1e1e" fill-opacity="0.13"/>
<circle cx="314.75" cy="558.3" r="1.8" fill="#1e1e1e" fill-opacity="0.13"/>
<circle cx="316.2" cy="558.3" r="1.8" fill="#1e1e1e" fill-opacity="0.13"/>
<circle cx="317.65" cy="558.3" r="1.8" fill="#1e1e1e" fill-opacity="0.13"/>
<circle cx="319.1" cy="558.3" r="1.8" fill="#1e1e1e" fill-opacity="0.13"/>
<circle cx="320.55" cy="558.3" r="1.8" fill="#1e1e1e" fill-opacity="0.13"/>
<circle cx="322" cy="558.3" r="1.8" fill="#1e1e1e" fill-opacity="0.13"/>
<circle cx="323.45" cy="558.3" r="1.8" fill="#1e1e1e" fill-opacity="0.13"/>
<circle cx="324.9" cy="558.3" r="1.8" fill="#1e1e1e" fill-opacity="0.13"/>
<circle cx="326.35" cy="558.3" r="1.8" fill="#1e1e1e" fill-opacity="0.13"/>
<circle cx="327.8" cy="558.3" r="1.8" fill="#1e1e1e" fill-opacity="0.13"/>
<circle cx="329.25" cy="558.3" r="1.8" fill="#1e1e1e" fill-opacity="0.13"/>
<circle cx="330.7" cy="558.3" r="1.8" fill="#1e1e1e" fill-opacity="0.13"/>
<circle cx="321" cy="558.3" r="1.6" fill="#1e1e1e" fill-opacity="0.15"/>
<circle cx="327" cy="558.3" r="1.6" fill="#1e1e1e" fill-opacity="0.15"/>
<line x1="330.7" y1="558.3" x2="336" y2="558.3" stroke="#8f94b4" stroke-width="0.5"/>
<text x="336.4" y="559.8" font-size="4.3" font-style="italic" fill="#707070">EZH2</text>
<circle cx="316.5" cy="475" r="5" fill="#b5304f" fill-opacity="0.95"/>
<text x="318" y="469.4" font-size="4.6" font-style="italic" fill="#707070" textLength="10.5" lengthAdjust="spacingAndGlyphs">CD83</text>
<circle cx="330.8" cy="444.6" r="5.8" fill="#a0042e"/>
<text x="311.9" y="451.6" font-size="4.6" font-style="italic" fill="#707070" textLength="12.3" lengthAdjust="spacingAndGlyphs">SOCS1</text>
</g>
<rect x="296.5" y="439.8" width="168.1" height="125" fill="none" stroke="#000" stroke-width="1.5"/>
<line x1="291.9" y1="558.3" x2="296.5" y2="558.3" stroke="#000" stroke-width="1.3"/>
<text x="288" y="561.9" font-size="10" text-anchor="end" fill="#222" textLength="19" lengthAdjust="spacingAndGlyphs" stroke="#222" stroke-width="0.15">0.00</text>
<line x1="304.8" y1="564.8" x2="304.8" y2="569" stroke="#000" stroke-width="1.3"/>
<text x="304.8" y="582.7" font-size="10" text-anchor="middle" fill="#222" textLength="19" lengthAdjust="spacingAndGlyphs" stroke="#222" stroke-width="0.15">0.00</text>
<line x1="291.9" y1="530" x2="296.5" y2="530" stroke="#000" stroke-width="1.3"/>
<text x="288" y="533.6" font-size="10" text-anchor="end" fill="#222" textLength="19" lengthAdjust="spacingAndGlyphs" stroke="#222" stroke-width="0.15">0.25</text>
<line x1="342.85" y1="564.8" x2="342.85" y2="569" stroke="#000" stroke-width="1.3"/>
<text x="342.85" y="582.7" font-size="10" text-anchor="middle" fill="#222" textLength="19" lengthAdjust="spacingAndGlyphs" stroke="#222" stroke-width="0.15">0.25</text>
<line x1="291.9" y1="501.7" x2="296.5" y2="501.7" stroke="#000" stroke-width="1.3"/>
<text x="288" y="505.3" font-size="10" text-anchor="end" fill="#222" textLength="19" lengthAdjust="spacingAndGlyphs" stroke="#222" stroke-width="0.15">0.50</text>
<line x1="380.9" y1="564.8" x2="380.9" y2="569" stroke="#000" stroke-width="1.3"/>
<text x="380.9" y="582.7" font-size="10" text-anchor="middle" fill="#222" textLength="19" lengthAdjust="spacingAndGlyphs" stroke="#222" stroke-width="0.15">0.50</text>
<line x1="291.9" y1="473.4" x2="296.5" y2="473.4" stroke="#000" stroke-width="1.3"/>
<text x="288" y="477" font-size="10" text-anchor="end" fill="#222" textLength="19" lengthAdjust="spacingAndGlyphs" stroke="#222" stroke-width="0.15">0.75</text>
<line x1="418.95" y1="564.8" x2="418.95" y2="569" stroke="#000" stroke-width="1.3"/>
<text x="418.95" y="582.7" font-size="10" text-anchor="middle" fill="#222" textLength="19" lengthAdjust="spacingAndGlyphs" stroke="#222" stroke-width="0.15">0.75</text>
<line x1="291.9" y1="445.1" x2="296.5" y2="445.1" stroke="#000" stroke-width="1.3"/>
<text x="288" y="448.7" font-size="10" text-anchor="end" fill="#222" textLength="19" lengthAdjust="spacingAndGlyphs" stroke="#222" stroke-width="0.15">1.00</text>
<line x1="457" y1="564.8" x2="457" y2="569" stroke="#000" stroke-width="1.3"/>
<text x="457" y="582.7" font-size="10" text-anchor="middle" fill="#222" textLength="19" lengthAdjust="spacingAndGlyphs" stroke="#222" stroke-width="0.15">1.00</text>
<text x="334" y="599.8" font-size="13.2" fill="#222" textLength="93.7" lengthAdjust="spacingAndGlyphs" stroke="#222" stroke-width="0.15">GCB-DLBCL (n=164)</text>
<text x="0" y="0" font-size="13.2" fill="#222" text-anchor="middle" textLength="93.6" lengthAdjust="spacingAndGlyphs" transform="translate(261,501.7) rotate(-90)">PMBLsig-pos (n=15)</text>
<text x="391.5" y="540.8" font-size="8.6" fill="#262626" textLength="26.8" lengthAdjust="spacingAndGlyphs">p-value</text>
<circle cx="393.5" cy="547" r="2" fill="#c8102e"/>
<text x="400.5" y="550.2" font-size="8.6" fill="#262626" textLength="61" lengthAdjust="spacingAndGlyphs">p_value &lt; = 0.05</text>
<circle cx="393.5" cy="555.9" r="2" fill="#333"/>
<text x="400.5" y="559.1" font-size="8.6" fill="#262626" textLength="53.5" lengthAdjust="spacingAndGlyphs">p_value &gt; 0.05</text>
<clipPath id="clipE"><rect x="57.3" y="649.8" width="168.1" height="124.7"/></clipPath>
<g clip-path="url(#clipE)">
<line x1="49.76" y1="780.1" x2="232.64" y2="643.9" stroke="#9a9a9a" stroke-width="0.8" stroke-dasharray="2.6,2"/>
<circle cx="79.6" cy="723.35" r="3.2" fill="#c4466a" fill-opacity="0.45"/>
<line x1="80.2" y1="726.35" x2="83" y2="737.48" stroke="#8f94b4" stroke-width="0.5"/>
<circle cx="68.3" cy="730.92" r="3.8" fill="#b01a48" fill-opacity="0.9"/>
<circle cx="76.2" cy="730.92" r="2.8" fill="#c4466a" fill-opacity="0.35"/>
<circle cx="83.9" cy="730.92" r="2.2" fill="#c4466a" fill-opacity="0.35"/>
<text x="58.9" y="728.7" font-size="4.3" font-style="italic" fill="#707070">IL4R</text>
<line x1="71.4" y1="732.42" x2="93.5" y2="760.18" stroke="#8f94b4" stroke-width="0.5"/>
<circle cx="64.2" cy="738.48" r="3.5" fill="#c4466a" fill-opacity="0.45"/>
<circle cx="68.6" cy="738.48" r="3.8" fill="#a8083a" fill-opacity="0.7"/>
<circle cx="72.6" cy="738.48" r="3.8" fill="#a8083a" fill-opacity="0.7"/>
<circle cx="76.2" cy="738.48" r="3.5" fill="#a8083a" fill-opacity="0.6"/>
<circle cx="77.7" cy="738.48" r="2.5" fill="#a8083a" fill-opacity="0.4"/>
<text x="78.6" y="742.7" font-size="4.3" font-style="italic" fill="#707070">DUSP2</text>
<circle cx="63.6" cy="746.05" r="3.9" fill="#a8083a" fill-opacity="0.9"/>
<circle cx="67.5" cy="746.05" r="3.9" fill="#a8083a" fill-opacity="0.85"/>
<circle cx="71.5" cy="746.05" r="3.7" fill="#a8083a" fill-opacity="0.7"/>
<circle cx="73.8" cy="746.05" r="2.5" fill="#1e1e1e" fill-opacity="0.25"/>
<circle cx="74.6" cy="746.05" r="2.33" fill="#1e1e1e" fill-opacity="0.25"/>
<circle cx="75.4" cy="746.05" r="2.17" fill="#1e1e1e" fill-opacity="0.25"/>
<circle cx="76.2" cy="746.05" r="2" fill="#1e1e1e" fill-opacity="0.25"/>
<circle cx="77" cy="746.05" r="1.83" fill="#1e1e1e" fill-opacity="0.25"/>
<circle cx="77.8" cy="746.05" r="1.67" fill="#1e1e1e" fill-opacity="0.25"/>
<circle cx="78.6" cy="746.05" r="1.5" fill="#1e1e1e" fill-opacity="0.25"/>
<text x="92.1" y="750.8" font-size="4.3" font-style="italic" fill="#707070">PIM1</text>
<text x="104.4" y="750.8" font-size="4.3" font-style="italic" fill="#707070">KMT2D</text>
<line x1="97.5" y1="747.5" x2="101.5" y2="740.5" stroke="#8f94b4" stroke-width="0.5"/>
<circle cx="65.2" cy="753.62" r="3.6" fill="#a8083a" fill-opacity="0.9"/>
<circle cx="67.6" cy="753.62" r="2.5" fill="#1e1e1e" fill-opacity="0.4"/>
<circle cx="68.37" cy="753.62" r="2.4" fill="#1e1e1e" fill-opacity="0.4"/>
<circle cx="69.14" cy="753.62" r="2.3" fill="#1e1e1e" fill-opacity="0.4"/>
<circle cx="69.91" cy="753.62" r="2.2" fill="#1e1e1e" fill-opacity="0.4"/>
<circle cx="70.68" cy="753.62" r="2.1" fill="#1e1e1e" fill-opacity="0.4"/>
<circle cx="71.45" cy="753.62" r="2" fill="#1e1e1e" fill-opacity="0.4"/>
<circle cx="72.22" cy="753.62" r="1.9" fill="#1e1e1e" fill-opacity="0.4"/>
<circle cx="72.99" cy="753.62" r="1.8" fill="#1e1e1e" fill-opacity="0.4"/>
<circle cx="73.76" cy="753.62" r="1.7" fill="#1e1e1e" fill-opacity="0.4"/>
<circle cx="74.53" cy="753.62" r="1.6" fill="#1e1e1e" fill-opacity="0.4"/>
<circle cx="75.3" cy="753.62" r="1.5" fill="#1e1e1e" fill-opacity="0.4"/>
<circle cx="75.3" cy="753.62" r="1.3" fill="#1e1e1e" fill-opacity="0.2"/>
<circle cx="76.03" cy="753.62" r="1.23" fill="#1e1e1e" fill-opacity="0.2"/>
<circle cx="76.75" cy="753.62" r="1.15" fill="#1e1e1e" fill-opacity="0.2"/>
<circle cx="77.47" cy="753.62" r="1.07" fill="#1e1e1e" fill-opacity="0.2"/>
<circle cx="78.2" cy="753.62" r="1" fill="#1e1e1e" fill-opacity="0.2"/>
<circle cx="65.2" cy="761.18" r="3.2" fill="#a8083a" fill-opacity="0.8"/>
<circle cx="65.6" cy="761.18" r="2.7" fill="#1a0008" fill-opacity="0.8"/>
<circle cx="67.6" cy="761.18" r="2" fill="#1e1e1e" fill-opacity="0.4"/>
<circle cx="68.44" cy="761.18" r="1.9" fill="#1e1e1e" fill-opacity="0.4"/>
<circle cx="69.27" cy="761.18" r="1.8" fill="#1e1e1e" fill-opacity="0.4"/>
<circle cx="70.11" cy="761.18" r="1.7" fill="#1e1e1e" fill-opacity="0.4"/>
<circle cx="70.95" cy="761.18" r="1.6" fill="#1e1e1e" fill-opacity="0.4"/>
<circle cx="71.79" cy="761.18" r="1.5" fill="#1e1e1e" fill-opacity="0.4"/>
<circle cx="72.62" cy="761.18" r="1.4" fill="#1e1e1e" fill-opacity="0.4"/>
<circle cx="73.46" cy="761.18" r="1.3" fill="#1e1e1e" fill-opacity="0.4"/>
<circle cx="74.3" cy="761.18" r="1.2" fill="#1e1e1e" fill-opacity="0.4"/>
<circle cx="74.3" cy="761.18" r="0.9" fill="#1e1e1e" fill-opacity="0.25"/>
<circle cx="75.44" cy="761.18" r="0.88" fill="#1e1e1e" fill-opacity="0.25"/>
<circle cx="76.58" cy="761.18" r="0.86" fill="#1e1e1e" fill-opacity="0.25"/>
<circle cx="77.72" cy="761.18" r="0.84" fill="#1e1e1e" fill-opacity="0.25"/>
<circle cx="78.86" cy="761.18" r="0.82" fill="#1e1e1e" fill-opacity="0.25"/>
<circle cx="80" cy="761.18" r="0.8" fill="#1e1e1e" fill-opacity="0.25"/>
<circle cx="88.3" cy="761.18" r="1.5" fill="#8c8c8c" fill-opacity="0.4"/>
<text x="94.5" y="762.38" font-size="4.3" font-style="italic" fill="#707070">STAT6</text>
<circle cx="64.2" cy="768.75" r="0.9" fill="#1e1e1e" fill-opacity="0.7"/>
<circle cx="65.05" cy="768.75" r="0.9" fill="#1e1e1e" fill-opacity="0.7"/>
<circle cx="65.9" cy="768.75" r="0.9" fill="#1e1e1e" fill-opacity="0.7"/>
<circle cx="66.75" cy="768.75" r="0.9" fill="#1e1e1e" fill-opacity="0.7"/>
<circle cx="67.6" cy="768.75" r="0.9" fill="#1e1e1e" fill-opacity="0.7"/>
<circle cx="68.45" cy="768.75" r="0.9" fill="#1e1e1e" fill-opacity="0.7"/>
<circle cx="69.3" cy="768.75" r="0.9" fill="#1e1e1e" fill-opacity="0.7"/>
<circle cx="70.15" cy="768.75" r="0.9" fill="#1e1e1e" fill-opacity="0.7"/>
<circle cx="71" cy="768.75" r="0.9" fill="#1e1e1e" fill-opacity="0.7"/>
<circle cx="71" cy="768.75" r="0.7" fill="#1e1e1e" fill-opacity="0.16"/>
<circle cx="72.19" cy="768.75" r="0.7" fill="#1e1e1e" fill-opacity="0.16"/>
<circle cx="73.38" cy="768.75" r="0.7" fill="#1e1e1e" fill-opacity="0.16"/>
<circle cx="74.57" cy="768.75" r="0.69" fill="#1e1e1e" fill-opacity="0.16"/>
<circle cx="75.76" cy="768.75" r="0.69" fill="#1e1e1e" fill-opacity="0.16"/>
<circle cx="76.95" cy="768.75" r="0.69" fill="#1e1e1e" fill-opacity="0.16"/>
<circle cx="78.14" cy="768.75" r="0.69" fill="#1e1e1e" fill-opacity="0.16"/>
<circle cx="79.33" cy="768.75" r="0.69" fill="#1e1e1e" fill-opacity="0.16"/>
<circle cx="80.52" cy="768.75" r="0.69" fill="#1e1e1e" fill-opacity="0.16"/>
<circle cx="81.71" cy="768.75" r="0.68" fill="#1e1e1e" fill-opacity="0.16"/>
<circle cx="82.9" cy="768.75" r="0.68" fill="#1e1e1e" fill-opacity="0.16"/>
<circle cx="84.09" cy="768.75" r="0.68" fill="#1e1e1e" fill-opacity="0.16"/>
<circle cx="85.28" cy="768.75" r="0.68" fill="#1e1e1e" fill-opacity="0.16"/>
<circle cx="86.47" cy="768.75" r="0.68" fill="#1e1e1e" fill-opacity="0.16"/>
<circle cx="87.66" cy="768.75" r="0.68" fill="#1e1e1e" fill-opacity="0.16"/>
<circle cx="88.84" cy="768.75" r="0.67" fill="#1e1e1e" fill-opacity="0.16"/>
<circle cx="90.03" cy="768.75" r="0.67" fill="#1e1e1e" fill-opacity="0.16"/>
<circle cx="91.22" cy="768.75" r="0.67" fill="#1e1e1e" fill-opacity="0.16"/>
<circle cx="92.41" cy="768.75" r="0.67" fill="#1e1e1e" fill-opacity="0.16"/>
<circle cx="93.6" cy="768.75" r="0.67" fill="#1e1e1e" fill-opacity="0.16"/>
<circle cx="94.79" cy="768.75" r="0.67" fill="#1e1e1e" fill-opacity="0.16"/>
<circle cx="95.98" cy="768.75" r="0.66" fill="#1e1e1e" fill-opacity="0.16"/>
<circle cx="97.17" cy="768.75" r="0.66" fill="#1e1e1e" fill-opacity="0.16"/>
<circle cx="98.36" cy="768.75" r="0.66" fill="#1e1e1e" fill-opacity="0.16"/>
<circle cx="99.55" cy="768.75" r="0.66" fill="#1e1e1e" fill-opacity="0.16"/>
<circle cx="100.74" cy="768.75" r="0.66" fill="#1e1e1e" fill-opacity="0.16"/>
<circle cx="101.93" cy="768.75" r="0.66" fill="#1e1e1e" fill-opacity="0.16"/>
<circle cx="103.12" cy="768.75" r="0.65" fill="#1e1e1e" fill-opacity="0.16"/>
<circle cx="104.31" cy="768.75" r="0.65" fill="#1e1e1e" fill-opacity="0.16"/>
<circle cx="105.5" cy="768.75" r="0.65" fill="#1e1e1e" fill-opacity="0.16"/>
<circle cx="106.69" cy="768.75" r="0.65" fill="#1e1e1e" fill-opacity="0.16"/>
<circle cx="107.88" cy="768.75" r="0.65" fill="#1e1e1e" fill-opacity="0.16"/>
<circle cx="109.07" cy="768.75" r="0.64" fill="#1e1e1e" fill-opacity="0.16"/>
<circle cx="110.26" cy="768.75" r="0.64" fill="#1e1e1e" fill-opacity="0.16"/>
<circle cx="111.45" cy="768.75" r="0.64" fill="#1e1e1e" fill-opacity="0.16"/>
<circle cx="112.64" cy="768.75" r="0.64" fill="#1e1e1e" fill-opacity="0.16"/>
<circle cx="113.83" cy="768.75" r="0.64" fill="#1e1e1e" fill-opacity="0.16"/>
<circle cx="115.02" cy="768.75" r="0.64" fill="#1e1e1e" fill-opacity="0.16"/>
<circle cx="116.21" cy="768.75" r="0.63" fill="#1e1e1e" fill-opacity="0.16"/>
<circle cx="117.4" cy="768.75" r="0.63" fill="#1e1e1e" fill-opacity="0.16"/>
<circle cx="118.59" cy="768.75" r="0.63" fill="#1e1e1e" fill-opacity="0.16"/>
<circle cx="119.78" cy="768.75" r="0.63" fill="#1e1e1e" fill-opacity="0.16"/>
<circle cx="120.97" cy="768.75" r="0.63" fill="#1e1e1e" fill-opacity="0.16"/>
<circle cx="122.16" cy="768.75" r="0.63" fill="#1e1e1e" fill-opacity="0.16"/>
<circle cx="123.34" cy="768.75" r="0.62" fill="#1e1e1e" fill-opacity="0.16"/>
<circle cx="124.53" cy="768.75" r="0.62" fill="#1e1e1e" fill-opacity="0.16"/>
<circle cx="125.72" cy="768.75" r="0.62" fill="#1e1e1e" fill-opacity="0.16"/>
<circle cx="126.91" cy="768.75" r="0.62" fill="#1e1e1e" fill-opacity="0.16"/>
<circle cx="128.1" cy="768.75" r="0.62" fill="#1e1e1e" fill-opacity="0.16"/>
<circle cx="129.29" cy="768.75" r="0.62" fill="#1e1e1e" fill-opacity="0.16"/>
<circle cx="130.48" cy="768.75" r="0.61" fill="#1e1e1e" fill-opacity="0.16"/>
<circle cx="131.67" cy="768.75" r="0.61" fill="#1e1e1e" fill-opacity="0.16"/>
<circle cx="132.86" cy="768.75" r="0.61" fill="#1e1e1e" fill-opacity="0.16"/>
<circle cx="134.05" cy="768.75" r="0.61" fill="#1e1e1e" fill-opacity="0.16"/>
<circle cx="135.24" cy="768.75" r="0.61" fill="#1e1e1e" fill-opacity="0.16"/>
<circle cx="136.43" cy="768.75" r="0.61" fill="#1e1e1e" fill-opacity="0.16"/>
<circle cx="137.62" cy="768.75" r="0.6" fill="#1e1e1e" fill-opacity="0.16"/>
<circle cx="138.81" cy="768.75" r="0.6" fill="#1e1e1e" fill-opacity="0.16"/>
<circle cx="140" cy="768.75" r="0.6" fill="#1e1e1e" fill-opacity="0.16"/>
<text x="58.4" y="770.95" font-size="4.3" font-style="italic" fill="#707070">LPHN3</text>
<text x="91.6" y="767.35" font-size="4.3" font-style="italic" fill="#707070">TMSB4X</text>
<text x="108.5" y="770.05" font-size="4.3" font-style="italic" fill="#707070">CD79B</text>
<text x="125" y="767.75" font-size="4.3" font-style="italic" fill="#707070">TBL1XR1</text>
<line x1="102" y1="768.75" x2="124" y2="767.15" stroke="#8f94b4" stroke-width="0.5"/>
<circle cx="71.5" cy="685.4" r="5" fill="#b5304f" fill-opacity="0.95"/>
<text x="79.2" y="682.2" font-size="4.6" font-style="italic" fill="#707070" textLength="10.4" lengthAdjust="spacingAndGlyphs">CD83</text>
<circle cx="81.5" cy="655.2" r="5.6" fill="#a0042e"/>
<text x="68.1" y="661" font-size="4.6" font-style="italic" fill="#707070" textLength="12.7" lengthAdjust="spacingAndGlyphs">SOCS1</text>
</g>
<rect x="57.3" y="649.8" width="168.1" height="124.7" fill="none" stroke="#000" stroke-width="1.5"/>
<line x1="52.7" y1="768.75" x2="57.3" y2="768.75" stroke="#000" stroke-width="1.3"/>
<text x="48" y="772.35" font-size="10" text-anchor="end" fill="#222" textLength="19" lengthAdjust="spacingAndGlyphs" stroke="#222" stroke-width="0.15">0.00</text>
<line x1="65" y1="774.5" x2="65" y2="778.7" stroke="#000" stroke-width="1.3"/>
<text x="65" y="792.4" font-size="10" text-anchor="middle" fill="#222" textLength="19" lengthAdjust="spacingAndGlyphs" stroke="#222" stroke-width="0.15">0.00</text>
<line x1="52.7" y1="740.38" x2="57.3" y2="740.38" stroke="#000" stroke-width="1.3"/>
<text x="48" y="743.98" font-size="10" text-anchor="end" fill="#222" textLength="19" lengthAdjust="spacingAndGlyphs" stroke="#222" stroke-width="0.15">0.25</text>
<line x1="103.1" y1="774.5" x2="103.1" y2="778.7" stroke="#000" stroke-width="1.3"/>
<text x="103.1" y="792.4" font-size="10" text-anchor="middle" fill="#222" textLength="19" lengthAdjust="spacingAndGlyphs" stroke="#222" stroke-width="0.15">0.25</text>
<line x1="52.7" y1="712" x2="57.3" y2="712" stroke="#000" stroke-width="1.3"/>
<text x="48" y="715.6" font-size="10" text-anchor="end" fill="#222" textLength="19" lengthAdjust="spacingAndGlyphs" stroke="#222" stroke-width="0.15">0.50</text>
<line x1="141.2" y1="774.5" x2="141.2" y2="778.7" stroke="#000" stroke-width="1.3"/>
<text x="141.2" y="792.4" font-size="10" text-anchor="middle" fill="#222" textLength="19" lengthAdjust="spacingAndGlyphs" stroke="#222" stroke-width="0.15">0.50</text>
<line x1="52.7" y1="683.62" x2="57.3" y2="683.62" stroke="#000" stroke-width="1.3"/>
<text x="48" y="687.23" font-size="10" text-anchor="end" fill="#222" textLength="19" lengthAdjust="spacingAndGlyphs" stroke="#222" stroke-width="0.15">0.75</text>
<line x1="179.3" y1="774.5" x2="179.3" y2="778.7" stroke="#000" stroke-width="1.3"/>
<text x="179.3" y="792.4" font-size="10" text-anchor="middle" fill="#222" textLength="19" lengthAdjust="spacingAndGlyphs" stroke="#222" stroke-width="0.15">0.75</text>
<line x1="52.7" y1="655.25" x2="57.3" y2="655.25" stroke="#000" stroke-width="1.3"/>
<text x="48" y="658.85" font-size="10" text-anchor="end" fill="#222" textLength="19" lengthAdjust="spacingAndGlyphs" stroke="#222" stroke-width="0.15">1.00</text>
<line x1="217.4" y1="774.5" x2="217.4" y2="778.7" stroke="#000" stroke-width="1.3"/>
<text x="217.4" y="792.4" font-size="10" text-anchor="middle" fill="#222" textLength="19" lengthAdjust="spacingAndGlyphs" stroke="#222" stroke-width="0.15">1.00</text>
<text x="99.2" y="810" font-size="13.2" fill="#222" textLength="84.4" lengthAdjust="spacingAndGlyphs" stroke="#222" stroke-width="0.15">All DLBCL (n=466)</text>
<text x="0" y="0" font-size="13.2" fill="#222" text-anchor="middle" textLength="93.6" lengthAdjust="spacingAndGlyphs" transform="translate(21.5,711.55) rotate(-90)">PMBLsig-pos (n=15)</text>
<text x="151.5" y="739.2" font-size="8.6" fill="#262626" textLength="26.8" lengthAdjust="spacingAndGlyphs">p-value</text>
<circle cx="153.5" cy="745.4" r="2" fill="#c8102e"/>
<text x="160.5" y="748.6" font-size="8.6" fill="#262626" textLength="61" lengthAdjust="spacingAndGlyphs">p_value &lt; = 0.05</text>
<circle cx="153.5" cy="754.3" r="2" fill="#333"/>
<text x="160.5" y="757.5" font-size="8.6" fill="#262626" textLength="53.5" lengthAdjust="spacingAndGlyphs">p_value &gt; 0.05</text>
<rect x="0" y="0" width="520" height="1.6" fill="#000"/>
<rect x="0" y="0" width="1.75" height="824" fill="#000"/>
<rect x="518.25" y="0" width="1.75" height="824" fill="#000"/>
<rect x="0" y="822.3" width="520" height="1.7" fill="#000"/>
</svg>
</body></html>
